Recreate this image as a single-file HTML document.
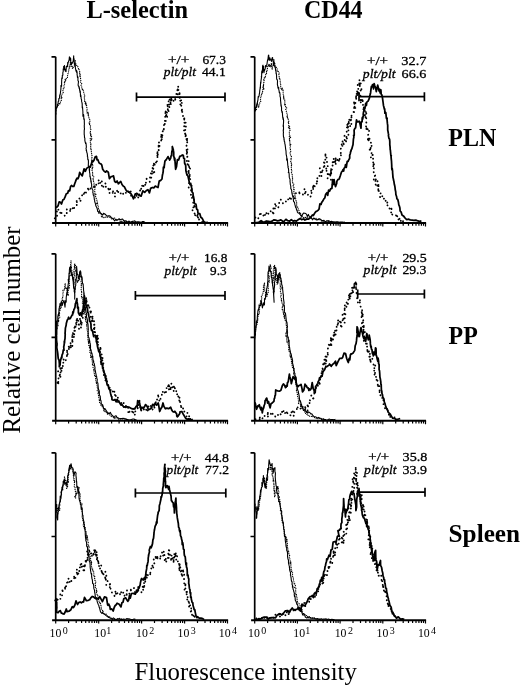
<!DOCTYPE html>
<html><head><meta charset="utf-8"><title>Figure</title>
<style>html,body{margin:0;padding:0;background:#fff}svg{display:block}</style>
</head><body>
<svg width="520" height="686" viewBox="0 0 520 686">
<rect width="520" height="686" fill="#fff"/>
<g font-family="'Liberation Serif', serif" fill="#000">
<path d="M55.7 56.8 V223.0 M51.5 56.8 H55.7 M51.5 139.9 H55.7" stroke="#000" stroke-width="1.7" fill="none"/>
<path d="M52.1 223.0 H228.1" stroke="#000" stroke-width="2" fill="none"/>
<path d="M55.7 223.0 v3.4 M68.6 223.0 v2.8 M76.2 223.0 v2.8 M81.6 223.0 v2.8 M85.7 223.0 v2.8 M89.1 223.0 v2.8 M92.0 223.0 v2.8 M94.5 223.0 v2.8 M96.7 223.0 v2.8 M98.7 223.0 v3.4 M111.6 223.0 v2.8 M119.1 223.0 v2.8 M124.5 223.0 v2.8 M128.7 223.0 v2.8 M132.1 223.0 v2.8 M134.9 223.0 v2.8 M137.4 223.0 v2.8 M139.6 223.0 v2.8 M141.6 223.0 v3.4 M154.5 223.0 v2.8 M162.1 223.0 v2.8 M167.5 223.0 v2.8 M171.6 223.0 v2.8 M175.0 223.0 v2.8 M177.9 223.0 v2.8 M180.4 223.0 v2.8 M182.6 223.0 v2.8 M184.6 223.0 v3.4 M197.5 223.0 v2.8 M205.0 223.0 v2.8 M210.4 223.0 v2.8 M214.6 223.0 v2.8 M218.0 223.0 v2.8 M220.8 223.0 v2.8 M223.3 223.0 v2.8 M225.5 223.0 v2.8 M227.5 223.0 v3.4" stroke="#000" stroke-width="1.2" fill="none"/>
<path d="M254.7 56.8 V223.0 M250.5 56.8 H254.7 M250.5 139.9 H254.7" stroke="#000" stroke-width="1.7" fill="none"/>
<path d="M251.1 223.0 H426.1" stroke="#000" stroke-width="2" fill="none"/>
<path d="M254.7 223.0 v3.4 M267.6 223.0 v2.8 M275.1 223.0 v2.8 M280.4 223.0 v2.8 M284.5 223.0 v2.8 M287.9 223.0 v2.8 M290.8 223.0 v2.8 M293.3 223.0 v2.8 M295.4 223.0 v2.8 M297.4 223.0 v3.4 M310.3 223.0 v2.8 M317.8 223.0 v2.8 M323.1 223.0 v2.8 M327.2 223.0 v2.8 M330.6 223.0 v2.8 M333.5 223.0 v2.8 M336.0 223.0 v2.8 M338.1 223.0 v2.8 M340.1 223.0 v3.4 M353.0 223.0 v2.8 M360.5 223.0 v2.8 M365.8 223.0 v2.8 M369.9 223.0 v2.8 M373.3 223.0 v2.8 M376.2 223.0 v2.8 M378.7 223.0 v2.8 M380.8 223.0 v2.8 M382.8 223.0 v3.4 M395.7 223.0 v2.8 M403.2 223.0 v2.8 M408.5 223.0 v2.8 M412.6 223.0 v2.8 M416.0 223.0 v2.8 M418.9 223.0 v2.8 M421.4 223.0 v2.8 M423.5 223.0 v2.8 M425.5 223.0 v3.4" stroke="#000" stroke-width="1.2" fill="none"/>
<path d="M55.7 253.8 V420.8 M51.5 253.8 H55.7 M51.5 337.3 H55.7" stroke="#000" stroke-width="1.7" fill="none"/>
<path d="M52.1 420.8 H228.1" stroke="#000" stroke-width="2" fill="none"/>
<path d="M55.7 420.8 v3.4 M68.6 420.8 v2.8 M76.2 420.8 v2.8 M81.6 420.8 v2.8 M85.7 420.8 v2.8 M89.1 420.8 v2.8 M92.0 420.8 v2.8 M94.5 420.8 v2.8 M96.7 420.8 v2.8 M98.7 420.8 v3.4 M111.6 420.8 v2.8 M119.1 420.8 v2.8 M124.5 420.8 v2.8 M128.7 420.8 v2.8 M132.1 420.8 v2.8 M134.9 420.8 v2.8 M137.4 420.8 v2.8 M139.6 420.8 v2.8 M141.6 420.8 v3.4 M154.5 420.8 v2.8 M162.1 420.8 v2.8 M167.5 420.8 v2.8 M171.6 420.8 v2.8 M175.0 420.8 v2.8 M177.9 420.8 v2.8 M180.4 420.8 v2.8 M182.6 420.8 v2.8 M184.6 420.8 v3.4 M197.5 420.8 v2.8 M205.0 420.8 v2.8 M210.4 420.8 v2.8 M214.6 420.8 v2.8 M218.0 420.8 v2.8 M220.8 420.8 v2.8 M223.3 420.8 v2.8 M225.5 420.8 v2.8 M227.5 420.8 v3.4" stroke="#000" stroke-width="1.2" fill="none"/>
<path d="M254.7 253.8 V420.8 M250.5 253.8 H254.7 M250.5 337.3 H254.7" stroke="#000" stroke-width="1.7" fill="none"/>
<path d="M251.1 420.8 H426.1" stroke="#000" stroke-width="2" fill="none"/>
<path d="M254.7 420.8 v3.4 M267.6 420.8 v2.8 M275.1 420.8 v2.8 M280.4 420.8 v2.8 M284.5 420.8 v2.8 M287.9 420.8 v2.8 M290.8 420.8 v2.8 M293.3 420.8 v2.8 M295.4 420.8 v2.8 M297.4 420.8 v3.4 M310.3 420.8 v2.8 M317.8 420.8 v2.8 M323.1 420.8 v2.8 M327.2 420.8 v2.8 M330.6 420.8 v2.8 M333.5 420.8 v2.8 M336.0 420.8 v2.8 M338.1 420.8 v2.8 M340.1 420.8 v3.4 M353.0 420.8 v2.8 M360.5 420.8 v2.8 M365.8 420.8 v2.8 M369.9 420.8 v2.8 M373.3 420.8 v2.8 M376.2 420.8 v2.8 M378.7 420.8 v2.8 M380.8 420.8 v2.8 M382.8 420.8 v3.4 M395.7 420.8 v2.8 M403.2 420.8 v2.8 M408.5 420.8 v2.8 M412.6 420.8 v2.8 M416.0 420.8 v2.8 M418.9 420.8 v2.8 M421.4 420.8 v2.8 M423.5 420.8 v2.8 M425.5 420.8 v3.4" stroke="#000" stroke-width="1.2" fill="none"/>
<path d="M55.7 452.8 V620.2 M51.5 452.8 H55.7 M51.5 536.5 H55.7" stroke="#000" stroke-width="1.7" fill="none"/>
<path d="M52.1 620.2 H228.1" stroke="#000" stroke-width="2" fill="none"/>
<path d="M55.7 620.2 v3.4 M68.6 620.2 v2.8 M76.2 620.2 v2.8 M81.6 620.2 v2.8 M85.7 620.2 v2.8 M89.1 620.2 v2.8 M92.0 620.2 v2.8 M94.5 620.2 v2.8 M96.7 620.2 v2.8 M98.7 620.2 v3.4 M111.6 620.2 v2.8 M119.1 620.2 v2.8 M124.5 620.2 v2.8 M128.7 620.2 v2.8 M132.1 620.2 v2.8 M134.9 620.2 v2.8 M137.4 620.2 v2.8 M139.6 620.2 v2.8 M141.6 620.2 v3.4 M154.5 620.2 v2.8 M162.1 620.2 v2.8 M167.5 620.2 v2.8 M171.6 620.2 v2.8 M175.0 620.2 v2.8 M177.9 620.2 v2.8 M180.4 620.2 v2.8 M182.6 620.2 v2.8 M184.6 620.2 v3.4 M197.5 620.2 v2.8 M205.0 620.2 v2.8 M210.4 620.2 v2.8 M214.6 620.2 v2.8 M218.0 620.2 v2.8 M220.8 620.2 v2.8 M223.3 620.2 v2.8 M225.5 620.2 v2.8 M227.5 620.2 v3.4" stroke="#000" stroke-width="1.2" fill="none"/>
<text x="49.5" y="636.6" font-size="11.8">10<tspan dy="-2.7" font-size="10" dx="1.4">0</tspan></text>
<text x="94.3" y="636.6" font-size="11.8">10<tspan dy="-2.7" font-size="10" dx="0.2">1</tspan></text>
<text x="136.0" y="636.6" font-size="11.8">10<tspan dy="-2.7" font-size="10" dx="1.4">2</tspan></text>
<text x="177.5" y="636.6" font-size="11.8">10<tspan dy="-2.7" font-size="10" dx="1.4">3</tspan></text>
<text x="218.8" y="636.6" font-size="11.8">10<tspan dy="-2.7" font-size="10" dx="1.4">4</tspan></text>
<path d="M254.7 452.8 V620.2 M250.5 452.8 H254.7 M250.5 536.5 H254.7" stroke="#000" stroke-width="1.7" fill="none"/>
<path d="M251.1 620.2 H426.1" stroke="#000" stroke-width="2" fill="none"/>
<path d="M254.7 620.2 v3.4 M267.6 620.2 v2.8 M275.1 620.2 v2.8 M280.4 620.2 v2.8 M284.5 620.2 v2.8 M287.9 620.2 v2.8 M290.8 620.2 v2.8 M293.3 620.2 v2.8 M295.4 620.2 v2.8 M297.4 620.2 v3.4 M310.3 620.2 v2.8 M317.8 620.2 v2.8 M323.1 620.2 v2.8 M327.2 620.2 v2.8 M330.6 620.2 v2.8 M333.5 620.2 v2.8 M336.0 620.2 v2.8 M338.1 620.2 v2.8 M340.1 620.2 v3.4 M353.0 620.2 v2.8 M360.5 620.2 v2.8 M365.8 620.2 v2.8 M369.9 620.2 v2.8 M373.3 620.2 v2.8 M376.2 620.2 v2.8 M378.7 620.2 v2.8 M380.8 620.2 v2.8 M382.8 620.2 v3.4 M395.7 620.2 v2.8 M403.2 620.2 v2.8 M408.5 620.2 v2.8 M412.6 620.2 v2.8 M416.0 620.2 v2.8 M418.9 620.2 v2.8 M421.4 620.2 v2.8 M423.5 620.2 v2.8 M425.5 620.2 v3.4" stroke="#000" stroke-width="1.2" fill="none"/>
<text x="248.1" y="636.6" font-size="11.8">10<tspan dy="-2.7" font-size="10" dx="1.4">0</tspan></text>
<text x="293.3" y="636.6" font-size="11.8">10<tspan dy="-2.7" font-size="10" dx="0.2">1</tspan></text>
<text x="334.7" y="636.6" font-size="11.8">10<tspan dy="-2.7" font-size="10" dx="1.4">2</tspan></text>
<text x="376.6" y="636.6" font-size="11.8">10<tspan dy="-2.7" font-size="10" dx="1.4">3</tspan></text>
<text x="417.9" y="636.6" font-size="11.8">10<tspan dy="-2.7" font-size="10" dx="1.4">4</tspan></text>
</g>
<path d="M55.5 114.7 L55.8 110.2 L56.1 107.8 L56.2 108.7 L56.4 107.5 L57.3 107.2 L57.4 105.5 L57.5 105.2 L57.9 104.5 L58.2 101.8 L58.4 101.3 L58.7 100.9 L58.9 98.4 L59.2 98.3 L59.5 98.2 L59.7 95.4 L60.0 94.5 L60.1 95.2 L60.6 91.3 L60.5 91.4 L60.7 91.3 L61.0 87.1 L60.9 85.6 L61.2 85.6 L61.6 86.3 L61.6 83.2 L61.7 79.7 L61.7 80.4 L61.8 77.9 L62.3 78.3 L62.3 77.7 L62.3 75.9 L62.4 75.2 L62.9 75.1 L62.8 72.8 L63.2 71.3 L63.2 68.8 L63.5 68.9 L63.8 69.6 L63.6 66.6 L64.0 67.7 L64.2 66.4 L64.5 65.5 L64.6 67.2 L64.8 69.1 L64.8 69.9 L65.3 71.1 L65.7 69.4 L66.0 71.6 L66.4 66.3 L67.2 66.0 L67.5 66.7 L67.7 62.6 L67.7 64.8 L68.1 62.7 L68.7 61.0 L69.1 60.0 L69.4 56.8 L69.4 58.4 L69.6 57.6 L70.0 59.3 L70.1 57.6 L70.3 60.8 L70.7 58.5 L70.8 64.8 L71.5 64.3 L71.8 62.6 L72.4 63.1 L73.2 61.0 L73.5 58.1 L73.7 55.9 L73.7 59.7 L74.1 58.7 L74.3 64.1 L74.5 63.7 L74.6 63.5 L75.3 65.9 L75.4 68.0 L75.9 70.7 L76.4 71.7 L76.6 70.3 L76.7 72.4 L77.1 71.7 L77.1 74.7 L77.3 75.7 L77.5 77.7 L78.0 76.9 L77.9 80.2 L78.1 80.9 L78.5 81.5 L78.1 85.0 L78.5 86.3 L79.0 86.3 L79.0 87.5 L79.0 88.1 L79.4 87.7 L79.6 90.1 L79.9 90.0 L79.9 92.3 L80.3 91.3 L80.4 94.1 L80.5 96.5 L80.8 95.1 L81.0 96.5 L81.2 99.0 L81.4 99.3 L81.5 99.3 L81.7 101.9 L82.0 102.6 L82.2 104.4 L82.2 103.5 L82.2 107.5 L82.5 108.2 L82.5 106.7 L82.9 111.8 L82.9 111.8 L82.9 113.0 L82.9 116.2 L83.4 114.9 L83.6 114.7 L83.7 115.3 L83.8 119.3 L84.1 118.5 L84.3 119.4 L84.3 121.8 L84.3 122.1 L84.4 124.2 L84.2 126.4 L84.4 126.6 L84.3 127.5 L84.3 127.6 L84.5 128.6 L84.2 130.7 L84.2 134.6 L84.4 135.5 L84.3 134.5 L84.6 137.8 L84.4 136.8 L84.9 138.6 L84.8 140.2 L85.3 142.6 L85.6 143.2 L85.5 143.5 L86.0 143.0 L86.4 147.2 L86.0 148.4 L86.4 150.1 L86.2 150.7 L86.4 149.8 L86.9 153.0 L87.1 152.9 L87.5 155.7 L87.3 156.2 L87.7 156.8 L87.8 159.4 L87.9 159.8 L88.1 159.2 L88.4 160.7 L88.4 163.2 L88.3 165.6 L88.4 166.2 L88.7 166.6 L89.2 167.5 L89.3 170.5 L89.4 168.3 L89.6 169.8 L89.5 171.8 L89.8 173.5 L89.9 174.2 L89.9 176.8 L90.2 176.3 L90.5 179.2 L90.7 178.0 L90.8 180.5 L90.9 181.9 L91.2 180.9 L91.3 183.1 L91.7 184.7 L91.6 185.9 L91.9 188.3 L92.2 188.6 L92.4 189.5 L93.0 190.3 L92.8 192.5 L93.2 193.6 L93.2 194.8 L93.8 195.6 L94.0 196.6 L94.1 197.5 L94.4 199.9 L94.6 199.6 L94.7 201.5 L95.4 203.7 L95.8 205.3 L95.8 205.7 L96.7 207.5 L96.8 207.3 L97.4 209.7 L97.7 211.5 L98.4 211.8 L98.7 211.6 L98.7 213.2 L100.0 212.8 L101.1 213.4 L102.6 215.2 L103.5 213.3 L104.9 214.0 L106.1 215.1 L107.0 216.2 L108.3 215.9 L109.4 215.9 L110.1 216.0 L111.2 217.4 L112.2 218.2 L113.6 219.5 L114.7 220.8 L115.8 219.4 L116.8 220.4 L118.1 219.6 L119.1 218.7 L120.6 219.9 L121.8 219.1 L122.6 219.1 L123.9 220.9 L125.4 220.8 L126.5 221.7 L127.8 221.9 L128.8 221.1 L130.0 221.7 L131.3 222.0 L132.3 221.4 L133.5 221.2 L134.8 220.9 L136.2 222.1 L137.2 221.8 L138.5 221.8 L139.9 222.1 L141.1 222.4 L142.2 221.6 L143.9 221.6 L144.9 222.2 L146.0 222.6" stroke="#000" stroke-width="1.1" fill="none" stroke-linejoin="round"/>
<path d="M56.0 113.8 L55.7 111.7 L56.2 109.3 L56.8 107.5 L57.0 107.0 L57.4 104.5 L57.9 105.8 L58.7 104.5 L58.9 103.6 L60.2 104.1 L59.6 103.4 L60.9 101.4 L61.3 100.6 L61.0 96.8 L62.1 98.0 L61.6 97.4 L61.6 95.1 L62.6 93.1 L63.2 92.5 L62.8 89.8 L63.4 88.6 L63.4 88.9 L64.1 87.7 L63.9 87.3 L64.0 85.1 L64.7 83.7 L64.6 81.3 L64.4 82.6 L65.1 81.6 L65.1 79.3 L65.8 80.6 L65.5 79.6 L65.6 79.5 L66.5 78.5 L67.6 77.6 L67.3 77.3 L67.7 74.5 L68.5 71.9 L68.6 70.7 L68.8 70.1 L69.3 66.2 L69.5 68.0 L70.3 64.6 L69.7 63.6 L70.4 62.6 L71.3 64.9 L71.4 66.3 L72.2 65.6 L72.5 68.7 L73.3 67.4 L73.8 66.8 L74.3 66.3 L75.4 60.6 L75.1 60.9 L74.9 65.7 L75.6 63.5 L76.6 65.0 L77.1 66.3 L77.8 66.5 L78.5 68.7 L78.6 68.3 L80.1 72.6 L79.2 73.3 L79.7 73.3 L80.0 73.8 L79.8 76.3 L80.1 74.7 L80.5 78.1 L80.9 80.8 L80.5 81.5 L80.8 82.8 L81.7 83.5 L80.9 84.8 L82.0 87.8 L81.8 88.2 L82.0 88.8 L83.2 89.5 L82.2 89.4 L82.9 90.0 L83.1 90.1 L83.9 92.9 L83.9 92.9 L84.8 96.1 L84.7 95.3 L84.2 96.8 L84.7 100.4 L84.4 100.4 L85.6 104.4 L86.4 103.4 L85.6 102.1 L85.8 105.3 L86.4 104.3 L87.0 108.4 L86.9 109.0 L87.2 109.5 L86.8 110.0 L87.2 113.5 L87.7 112.8 L88.1 111.9 L88.2 115.3 L88.3 113.8 L88.6 116.6 L88.9 117.8 L89.6 118.3 L89.9 121.2 L89.5 124.0 L89.2 122.8 L89.8 125.5 L90.5 126.0 L90.4 127.7 L90.1 128.9 L90.8 129.4 L90.1 133.0 L90.4 132.4 L90.7 135.9 L90.8 134.2 L90.4 133.7 L91.3 136.0 L91.7 137.3 L91.8 140.1 L90.2 138.4 L90.4 138.7 L90.4 142.2 L90.8 143.8 L90.5 144.9 L91.1 143.5 L90.5 145.9 L91.0 147.7 L90.7 148.3 L90.9 147.8 L91.0 150.3 L91.2 149.6 L91.3 151.4 L91.5 153.2 L92.1 156.0 L91.9 157.5 L91.5 158.0 L91.9 158.8 L91.4 160.3 L91.8 161.7 L92.3 163.3 L92.4 164.5 L92.4 164.5 L92.7 163.9 L92.8 167.1 L91.7 167.9 L93.1 168.5 L91.7 169.2 L92.6 172.5 L93.0 172.9 L92.2 175.1 L93.9 176.6 L93.1 177.6 L93.0 180.1 L93.3 179.6 L93.4 180.9 L94.0 182.7 L93.9 184.3 L94.1 185.3 L94.6 186.5 L94.2 187.4 L95.0 187.2 L94.9 189.3 L94.7 189.8 L94.7 190.2 L94.9 193.0 L94.9 194.2 L96.3 194.6 L94.9 194.9 L96.1 197.7 L96.3 198.7 L97.4 201.5 L96.6 203.7 L97.3 202.6 L97.7 204.2 L97.9 205.5 L98.4 205.9 L98.4 208.1 L98.5 209.5 L99.2 209.7 L99.9 212.3 L99.5 211.1 L100.8 213.6 L101.3 214.4 L101.3 215.4 L101.6 217.5 L102.8 216.5 L104.2 217.8 L104.8 217.1 L106.3 217.4 L107.5 217.2 L108.6 217.0 L109.8 216.6 L110.4 218.3 L112.1 219.1 L113.0 218.6 L114.3 217.7 L115.8 219.4 L116.7 219.7 L118.2 219.8 L119.6 219.6 L120.3 222.1 L121.8 221.0 L122.6 221.9 L123.7 221.4 L124.8 221.4 L126.3 221.2 L127.5 221.5 L128.5 221.9 L129.9 222.4 L131.3 221.8 L132.5 221.5" stroke="#000" stroke-width="1.3" fill="none" stroke-dasharray="0.01 1.9" stroke-linecap="round" stroke-linejoin="round"/>
<path d="M54.8 218.3 L55.8 218.0 L56.5 218.2 L57.0 216.3 L57.2 214.5 L56.8 211.6 L58.4 208.6 L58.3 211.8 L60.9 213.1 L59.6 212.5 L61.0 212.5 L63.7 214.7 L64.4 214.9 L64.7 215.7 L65.0 213.2 L67.5 213.0 L66.8 209.4 L66.5 209.8 L70.7 211.1 L69.7 208.6 L71.6 209.9 L72.3 207.7 L74.1 210.0 L74.0 208.3 L74.6 206.8 L74.9 206.0 L77.4 204.6 L76.3 199.5 L76.9 202.3 L78.5 202.0 L79.9 200.7 L80.8 200.8 L78.7 200.3 L79.4 198.6 L81.8 195.4 L82.1 195.3 L83.2 196.3 L82.8 195.0 L84.6 193.0 L84.2 194.3 L84.9 191.4 L84.8 190.6 L86.0 192.5 L88.7 187.1 L88.2 189.2 L90.3 190.7 L90.4 189.4 L90.7 187.7 L92.3 188.0 L93.8 187.0 L93.4 186.8 L93.8 188.2 L94.7 186.2 L95.4 187.6 L96.3 184.9 L96.1 183.9 L98.7 184.2 L98.4 179.8 L100.0 183.6 L101.3 180.1 L101.8 181.1 L102.2 184.7 L101.2 187.5 L103.5 186.7 L104.0 184.0 L106.0 183.3 L105.6 186.7 L106.7 186.7 L109.2 189.9 L107.9 187.7 L109.6 193.0 L109.2 191.6 L110.3 188.6 L113.2 191.5 L112.1 190.4 L112.9 193.7 L115.3 196.9 L115.0 192.8 L116.8 190.1 L118.2 193.4 L118.3 191.2 L119.5 193.2 L122.0 193.5 L122.0 192.6 L121.9 192.4 L123.3 193.9 L125.5 192.6 L125.0 193.1 L126.0 192.8 L127.0 194.0 L128.0 192.3 L129.7 191.8 L130.0 190.2 L131.3 192.7 L131.0 195.6 L133.2 196.8 L134.4 197.2 L136.4 198.4 L136.7 192.6 L136.3 193.0 L138.3 197.6 L138.1 194.8 L139.3 194.5 L139.7 193.3 L139.3 195.6 L140.2 189.7 L141.2 190.8 L141.2 187.3 L142.8 186.6 L142.1 185.7 L143.4 185.5 L143.3 187.2 L144.3 183.4 L146.0 185.7 L146.2 184.6 L145.6 180.3 L146.5 178.8 L148.0 179.8 L149.8 181.8 L150.1 176.1 L150.7 177.7 L151.3 178.1 L150.8 171.5 L152.4 174.5 L152.0 170.1 L152.5 170.7 L152.2 171.4 L155.1 174.0 L152.1 167.0 L153.1 169.3 L154.8 164.2 L152.5 164.2 L154.9 163.3 L153.2 165.8 L155.5 162.4 L156.7 162.7 L155.7 161.6 L156.8 162.2 L157.5 157.1 L157.2 158.5 L157.5 152.4 L157.4 153.7 L158.0 154.9 L157.4 152.0 L159.0 152.4 L157.8 154.5 L158.4 151.8 L159.7 144.9 L158.6 144.0 L158.7 150.5 L158.6 144.6 L158.4 144.3 L159.2 141.8 L161.8 140.4 L161.0 140.5 L162.0 138.9 L160.7 135.8 L162.0 135.3 L161.8 140.3 L161.2 133.2 L162.4 135.5 L162.5 133.2 L162.3 132.1 L162.6 131.7 L163.7 128.3 L163.7 131.3 L163.9 128.1 L164.6 127.0 L163.8 125.6 L164.8 122.9 L164.9 120.2 L164.8 124.4 L166.0 121.7 L165.1 118.2 L165.4 112.7 L165.2 116.2 L167.6 113.6 L165.7 115.7 L167.0 112.5 L167.2 118.2 L165.3 111.8 L167.2 110.5 L168.4 111.4 L168.2 110.8 L167.4 103.4 L168.0 112.2 L169.8 108.2 L168.2 104.0 L169.7 104.8 L168.5 101.0 L170.1 103.2 L170.7 103.2 L169.1 99.2 L171.2 100.8 L171.3 97.3 L170.8 104.4 L172.0 98.4 L173.5 100.8 L173.9 102.0 L175.1 101.1 L175.3 98.7 L176.0 99.4 L174.7 98.4 L175.5 97.3 L178.1 93.9 L176.7 95.6 L176.1 92.0 L177.1 90.9 L177.4 90.2 L177.1 87.7 L178.1 90.2 L178.2 87.1 L178.2 86.2 L178.5 91.1 L179.8 93.2 L178.7 95.7 L179.8 98.0 L179.4 91.5 L180.1 97.6 L181.5 98.3 L179.6 102.0 L180.3 104.6 L181.3 100.4 L180.6 100.3 L181.4 102.8 L181.9 102.4 L181.4 104.2 L181.9 103.6 L180.8 107.2 L182.0 109.4 L181.5 112.2 L182.1 109.1 L182.5 115.5 L183.5 116.4 L183.0 116.1 L184.1 116.7 L184.4 118.0 L183.9 121.2 L184.3 122.5 L184.9 123.2 L183.8 117.1 L184.7 121.7 L186.5 123.5 L186.2 125.8 L184.9 128.7 L184.0 130.5 L184.2 126.2 L185.1 130.1 L185.3 129.9 L184.9 127.9 L184.7 130.9 L185.8 135.9 L184.8 133.7 L186.2 133.1 L185.3 138.7 L186.2 138.4 L187.5 141.7 L184.7 133.9 L187.7 137.9 L185.9 141.2 L188.1 143.1 L188.2 143.6 L186.4 145.9 L186.5 143.8 L186.6 150.9 L187.9 150.2 L187.5 148.9 L187.3 151.3 L186.5 154.9 L187.1 150.0 L187.1 155.1 L187.4 157.5 L187.5 155.3 L186.8 161.7 L187.9 160.0 L188.7 161.2 L188.6 160.7 L187.3 163.1 L188.5 166.8 L188.6 164.5 L189.5 164.3 L189.0 168.2 L188.2 169.6 L189.1 171.4 L190.2 168.2 L189.5 169.5 L187.7 171.2 L189.1 172.0 L188.3 174.1 L189.0 172.9 L190.0 173.4 L190.2 174.2 L188.8 179.1 L189.7 174.2 L190.3 180.2 L190.0 181.0 L188.9 183.6 L188.7 187.6 L189.6 185.9 L190.6 185.6 L191.6 185.4 L191.5 189.1 L190.7 191.6 L190.9 189.8 L191.1 190.5 L190.9 196.2 L191.6 195.3 L194.1 197.2 L192.2 198.3 L192.0 197.7 L192.5 198.9 L194.6 198.9 L192.2 201.8 L192.9 201.9 L194.2 204.8 L195.6 208.2 L193.7 204.6 L193.2 206.9 L194.1 209.5 L193.8 209.6 L192.4 210.1 L194.8 213.7 L193.5 212.8 L195.5 215.6 L196.5 217.4 L198.1 213.9 L197.1 213.6 L198.9 216.4 L197.5 217.2 L199.5 218.2 L198.2 219.4 L200.0 219.7 L201.6 221.9 L202.5 221.8 L203.4 222.4 L204.1 222.6" stroke="#000" stroke-width="1.9" fill="none" stroke-dasharray="0.01 4.3" stroke-linecap="round" stroke-linejoin="round"/>
<path d="M55.4 207.5 L56.8 207.2 L58.0 205.9 L59.2 201.8 L60.5 202.3 L61.5 204.0 L62.9 199.8 L63.9 199.5 L65.1 196.9 L66.3 193.8 L67.7 193.2 L68.4 190.7 L69.7 190.9 L70.6 186.4 L71.7 185.5 L72.7 186.5 L73.8 186.4 L74.7 183.7 L75.4 181.9 L76.2 179.6 L77.0 178.2 L77.9 178.8 L78.8 176.7 L79.7 172.4 L81.3 174.8 L82.3 175.8 L84.1 168.8 L85.3 171.3 L86.6 168.4 L88.4 167.1 L89.0 166.4 L90.2 167.2 L91.2 164.4 L92.2 160.8 L93.1 161.6 L94.1 160.0 L95.2 156.8 L96.5 156.4 L97.0 159.9 L97.9 159.7 L99.0 162.8 L100.1 163.6 L100.9 163.8 L101.8 165.1 L102.7 169.3 L104.0 171.1 L105.6 172.2 L106.6 170.9 L108.3 172.2 L109.4 178.6 L111.0 176.7 L112.1 176.5 L113.5 175.9 L114.7 181.5 L115.9 182.4 L117.1 181.0 L118.4 183.8 L119.4 182.7 L120.8 181.5 L122.0 184.5 L123.4 186.3 L124.4 186.8 L125.8 189.7 L126.9 191.1 L128.4 191.4 L129.6 192.5 L131.0 193.8 L132.0 195.5 L133.5 198.8 L135.3 193.9 L137.3 193.6 L139.1 195.5 L141.1 196.1 L142.9 190.8 L144.7 192.3 L146.4 190.5 L147.9 189.7 L149.4 192.9 L150.6 188.4 L152.4 187.5 L153.8 187.8 L155.3 186.1 L156.5 186.8 L158.0 187.5 L159.2 181.1 L160.7 180.4 L162.0 179.0 L162.3 176.0 L162.5 174.8 L162.9 173.2 L163.2 171.5 L163.3 168.7 L163.4 167.2 L164.2 167.6 L164.3 164.9 L164.4 165.3 L164.9 161.2 L166.3 159.6 L168.0 156.6 L169.7 160.0 L169.7 159.8 L170.6 158.2 L170.8 157.7 L171.0 156.0 L171.6 155.6 L171.7 153.3 L171.9 151.3 L172.4 150.1 L172.3 146.5 L172.8 148.0 L173.5 151.0 L173.3 149.5 L173.7 152.5 L173.7 156.6 L174.0 156.8 L174.6 160.3 L174.8 158.1 L174.9 159.8 L175.1 162.2 L175.6 169.3 L176.5 166.7 L177.4 159.7 L178.6 160.0 L179.8 156.4 L181.3 155.7 L182.4 155.0 L183.3 155.3 L183.7 158.3 L184.5 158.8 L184.6 163.2 L185.1 164.3 L185.4 164.1 L185.7 165.6 L185.9 170.9 L186.1 171.4 L186.5 173.2 L187.1 175.2 L187.3 174.3 L188.0 176.2 L188.5 178.5 L189.1 181.3 L189.4 183.0 L190.1 184.6 L190.7 183.4 L191.4 186.9 L191.6 187.9 L192.0 188.8 L192.0 191.9 L193.0 193.0 L193.1 194.8 L193.4 196.6 L193.8 198.0 L194.0 199.7 L194.3 202.9 L195.1 204.0 L195.9 204.2 L196.2 205.4 L196.6 209.0 L197.7 210.0 L197.9 212.7 L198.3 213.5 L199.8 213.7 L200.8 217.2 L202.1 218.2 L203.3 220.7 L204.1 221.8 L205.8 222.7 L208.0 222.3" stroke="#000" stroke-width="1.75" fill="none" stroke-linejoin="round"/>
<path d="M254.7 110.3 L254.6 108.5 L255.4 110.8 L255.4 108.6 L255.6 107.3 L256.1 107.0 L256.4 107.3 L256.6 105.1 L257.2 103.2 L257.3 102.3 L257.4 102.6 L257.7 100.6 L257.9 100.4 L258.2 96.6 L258.6 97.1 L259.1 95.8 L259.1 95.6 L259.3 94.2 L259.6 92.6 L259.7 91.2 L260.1 88.3 L260.2 87.1 L260.3 86.7 L260.5 88.0 L260.4 85.9 L260.6 82.4 L260.8 83.4 L261.0 81.5 L260.8 82.2 L261.5 77.4 L261.3 76.6 L261.6 77.2 L261.7 71.6 L261.9 73.9 L261.8 72.4 L262.3 69.9 L262.6 72.4 L262.5 69.7 L262.6 65.8 L263.0 65.2 L263.0 67.7 L263.3 70.9 L263.2 67.7 L263.7 66.6 L263.5 67.5 L264.0 72.7 L264.3 69.8 L264.4 70.8 L265.2 68.8 L265.5 65.6 L266.1 66.3 L266.2 66.8 L266.6 65.5 L267.0 64.0 L267.0 63.9 L267.4 61.0 L267.9 59.5 L268.4 55.3 L268.8 56.2 L268.7 55.1 L269.1 60.1 L269.0 59.3 L269.5 60.3 L269.6 59.4 L269.8 57.7 L270.5 60.0 L271.0 59.8 L271.5 61.4 L272.1 57.9 L272.6 57.5 L272.6 58.9 L272.8 59.1 L273.3 62.4 L273.5 62.6 L273.6 65.7 L273.8 64.9 L273.9 64.6 L274.5 65.8 L274.9 67.2 L275.3 67.8 L275.7 70.9 L275.9 70.0 L276.1 73.6 L276.1 72.3 L276.5 74.3 L276.6 77.7 L276.7 79.2 L277.0 79.2 L277.3 80.0 L277.5 81.2 L277.4 84.1 L277.4 84.6 L277.8 86.2 L278.0 88.2 L278.4 87.6 L278.4 87.7 L278.7 87.4 L278.7 89.4 L279.0 90.3 L279.3 92.7 L279.5 92.1 L279.7 92.4 L280.1 94.8 L280.1 95.2 L279.9 95.8 L280.5 97.9 L280.5 99.6 L280.9 104.2 L280.8 102.3 L281.0 105.9 L281.1 104.6 L281.5 107.4 L281.6 108.1 L281.5 111.0 L282.4 112.0 L282.0 111.1 L282.0 112.4 L282.3 111.7 L282.6 116.0 L282.7 117.5 L282.9 117.1 L283.0 119.2 L283.2 117.9 L283.4 119.5 L283.6 120.1 L283.5 123.4 L283.1 126.3 L283.4 125.1 L283.5 127.4 L283.5 129.3 L283.5 129.9 L283.2 129.9 L283.5 133.2 L283.4 132.7 L283.3 133.8 L283.5 137.2 L283.9 137.3 L283.9 137.4 L284.0 139.8 L284.1 138.9 L284.3 141.5 L284.6 141.6 L284.8 143.0 L284.8 143.8 L285.1 144.4 L285.3 146.1 L285.6 148.4 L285.6 148.9 L285.7 149.4 L286.0 151.1 L286.1 153.6 L286.3 155.2 L286.6 156.2 L286.8 157.7 L286.6 160.1 L286.8 160.2 L287.3 158.8 L287.5 162.0 L287.5 162.1 L287.7 163.8 L287.7 164.4 L288.0 166.7 L288.2 166.2 L288.0 167.8 L288.4 168.1 L288.7 171.4 L288.3 172.4 L288.9 172.4 L289.2 174.8 L289.2 175.5 L289.3 177.4 L289.7 178.5 L290.1 179.7 L290.0 181.5 L290.1 181.9 L290.3 184.3 L290.5 185.2 L290.7 186.0 L290.8 186.4 L290.8 188.6 L291.4 189.5 L291.7 190.6 L291.9 193.3 L292.2 192.9 L292.2 194.5 L292.6 195.7 L292.9 196.3 L293.1 197.8 L293.3 198.4 L293.4 199.9 L293.5 200.8 L293.7 201.8 L294.4 202.0 L294.9 204.7 L295.2 205.7 L295.6 207.5 L296.0 207.3 L296.4 209.2 L296.6 210.2 L297.2 210.3 L297.3 212.0 L297.8 212.7 L299.0 213.2 L300.2 214.6 L301.6 216.3 L302.8 214.1 L303.5 213.1 L305.0 213.2 L306.5 214.1 L307.3 216.5 L308.4 214.4 L309.5 217.1 L310.4 216.9 L311.4 217.9 L312.6 219.7 L313.7 218.0 L315.0 218.8 L316.2 219.8 L317.3 219.9 L318.1 219.1 L319.6 218.8 L320.7 219.4 L321.9 220.6 L323.3 220.6 L324.0 220.3 L325.2 222.0 L326.5 220.8 L328.1 220.9 L329.1 220.9 L330.4 221.8 L331.5 221.3 L332.7 221.8 L334.0 221.9 L335.1 222.1 L336.4 221.7 L337.8 221.7 L339.1 222.2 L340.1 222.0 L341.1 222.1 L342.4 222.1 L343.7 222.4 L344.9 222.1" stroke="#000" stroke-width="1.1" fill="none" stroke-linejoin="round"/>
<path d="M254.7 111.2 L255.3 111.7 L255.2 109.1 L256.6 110.1 L255.8 106.8 L257.0 106.2 L257.1 105.0 L257.4 103.0 L258.6 107.8 L259.4 103.5 L260.4 102.0 L260.7 101.5 L260.8 100.7 L260.3 98.6 L261.3 96.5 L261.0 95.0 L261.8 93.9 L262.1 93.7 L261.8 93.4 L262.9 92.5 L262.5 90.7 L263.4 88.3 L262.7 86.6 L264.2 89.5 L263.3 88.0 L263.5 85.1 L263.4 85.8 L264.2 79.5 L263.6 79.8 L264.5 79.0 L264.0 77.5 L264.9 77.2 L265.0 77.9 L265.8 74.2 L266.3 74.3 L266.7 72.1 L266.5 71.5 L266.8 71.8 L267.8 66.5 L267.6 66.6 L268.4 66.5 L268.6 64.2 L269.5 65.1 L269.6 66.4 L269.7 64.9 L271.0 67.0 L270.9 65.4 L271.4 63.2 L272.2 69.7 L272.2 67.9 L273.1 65.0 L273.3 63.2 L273.9 59.0 L274.1 64.5 L274.7 64.3 L274.4 61.8 L275.9 68.4 L275.8 66.4 L277.3 69.3 L277.3 71.5 L278.1 71.1 L278.4 71.8 L279.2 72.9 L278.5 73.7 L279.0 74.8 L279.2 77.1 L279.3 78.3 L279.4 78.2 L279.7 77.8 L280.2 80.9 L280.4 82.9 L280.8 83.9 L280.7 83.9 L280.7 87.0 L281.2 87.6 L281.0 89.2 L281.5 89.8 L282.7 88.4 L282.2 88.1 L282.3 90.2 L283.1 89.7 L283.2 93.9 L283.7 96.4 L283.7 98.0 L283.8 99.3 L283.7 96.9 L284.1 100.0 L284.9 100.3 L284.8 103.5 L284.6 105.3 L284.9 103.9 L285.4 104.8 L285.6 106.7 L285.6 106.5 L286.6 107.9 L285.7 109.1 L286.8 112.8 L287.3 114.9 L287.3 117.6 L287.1 116.2 L287.5 117.6 L287.6 118.7 L288.2 118.8 L289.1 122.2 L288.0 122.3 L288.6 122.6 L288.9 126.7 L288.4 127.3 L288.8 128.1 L288.9 127.0 L289.0 128.4 L289.5 126.5 L290.1 130.1 L289.4 131.2 L289.3 133.7 L289.9 135.8 L289.6 136.0 L290.1 136.5 L290.8 138.3 L290.3 136.8 L289.3 136.4 L289.7 141.0 L289.4 139.5 L289.9 141.4 L289.9 145.2 L290.0 144.4 L290.9 144.3 L290.0 147.4 L290.1 147.9 L290.5 148.0 L290.3 148.7 L290.7 151.3 L290.0 152.2 L290.5 155.0 L291.4 156.3 L291.0 159.1 L290.7 159.0 L291.2 160.2 L290.5 162.2 L291.5 163.5 L291.6 162.6 L291.1 164.5 L292.3 165.3 L291.1 166.0 L291.3 167.8 L291.5 168.8 L291.4 170.3 L291.6 170.1 L291.8 170.5 L291.4 173.3 L292.4 174.6 L292.2 174.9 L292.4 177.0 L292.6 178.8 L292.8 178.4 L292.3 179.7 L292.8 183.3 L293.8 184.1 L292.9 185.4 L293.2 185.7 L293.2 186.5 L294.1 187.5 L293.4 189.8 L294.2 189.4 L293.8 191.9 L294.2 193.6 L294.4 194.3 L295.2 195.7 L295.3 195.9 L295.2 197.5 L295.5 198.5 L296.1 199.7 L296.0 200.6 L296.3 200.5 L296.7 202.8 L296.7 203.2 L296.6 206.3 L297.2 206.4 L298.1 208.1 L298.3 209.3 L298.9 210.4 L299.3 212.1 L299.6 213.0 L300.3 212.7 L300.8 214.1 L301.1 215.6 L301.3 217.3 L302.6 216.0 L304.1 219.2 L305.5 216.7 L306.7 219.2 L307.6 217.6 L308.4 218.5 L310.5 218.3 L311.0 218.1 L312.3 219.6 L313.0 219.3 L314.8 218.7 L316.6 218.3 L316.9 220.0 L318.8 219.4 L319.5 219.1 L320.6 220.6 L321.8 221.2 L322.8 221.4 L323.9 221.5 L325.5 222.2 L327.4 221.8 L328.2 221.1 L329.2 222.1 L330.4 221.9 L331.2 221.9" stroke="#000" stroke-width="1.3" fill="none" stroke-dasharray="0.01 1.9" stroke-linecap="round" stroke-linejoin="round"/>
<path d="M255.4 217.6 L256.4 216.5 L258.3 218.4 L258.6 217.0 L259.8 214.2 L259.0 215.7 L261.6 213.2 L261.8 214.6 L262.7 214.9 L265.2 216.9 L264.9 212.4 L266.4 213.3 L266.7 211.7 L268.3 213.8 L269.1 211.5 L269.7 212.0 L271.4 210.8 L272.6 211.3 L274.0 214.5 L272.2 213.1 L273.2 212.1 L273.4 208.3 L273.0 209.8 L274.9 208.8 L275.1 203.5 L275.9 204.0 L275.6 206.2 L276.3 205.5 L275.6 205.6 L278.4 207.2 L279.7 199.9 L281.0 199.7 L281.7 201.6 L282.9 203.2 L282.9 203.8 L284.4 202.4 L286.6 201.0 L286.2 199.6 L288.4 199.4 L287.3 198.3 L290.1 198.3 L290.3 200.5 L291.0 198.8 L292.1 198.4 L294.7 198.7 L293.5 196.5 L294.3 195.7 L293.3 196.5 L296.5 192.5 L297.4 193.5 L299.9 193.2 L299.0 193.1 L297.9 192.1 L300.3 192.7 L302.9 194.3 L303.1 195.8 L305.3 192.8 L304.3 188.6 L306.7 194.4 L307.7 195.1 L308.4 194.1 L309.2 196.0 L311.1 196.7 L311.9 190.6 L311.1 191.5 L312.0 187.8 L314.2 186.3 L312.9 189.5 L314.7 186.2 L315.7 187.4 L313.4 185.6 L314.9 185.5 L317.0 183.1 L317.4 180.4 L316.1 183.2 L317.2 181.3 L315.9 180.8 L319.0 175.3 L318.9 175.7 L320.6 176.3 L321.3 174.7 L321.4 176.2 L319.8 168.1 L321.9 172.1 L321.8 169.3 L322.7 170.8 L322.8 170.6 L324.2 165.2 L324.5 162.8 L324.7 166.6 L323.1 163.5 L324.3 162.1 L323.8 159.8 L325.7 159.6 L325.3 152.9 L325.8 157.6 L326.5 157.3 L327.1 162.7 L327.8 166.1 L325.3 167.3 L327.0 169.5 L326.0 168.9 L327.0 172.6 L327.8 174.1 L327.4 174.2 L329.1 173.2 L327.8 173.6 L329.0 174.4 L331.3 173.5 L327.3 178.7 L331.0 179.7 L330.3 177.3 L330.4 172.5 L331.8 174.2 L330.8 170.7 L330.0 172.1 L330.1 175.5 L332.1 168.9 L330.8 173.6 L331.2 167.3 L331.4 166.3 L332.6 165.5 L332.2 165.9 L332.1 165.0 L332.9 161.1 L333.4 161.5 L333.8 158.3 L334.0 163.1 L333.4 162.0 L336.2 161.7 L335.5 157.1 L335.6 164.1 L337.4 159.7 L337.9 162.0 L339.0 160.6 L337.1 162.0 L338.0 158.7 L339.3 160.0 L339.9 157.9 L341.3 155.7 L340.3 154.5 L340.0 152.5 L340.8 153.2 L340.9 151.8 L340.6 150.6 L340.7 149.4 L341.3 146.0 L342.6 140.9 L342.4 146.0 L343.5 142.7 L343.4 145.9 L344.8 139.4 L345.2 137.9 L344.4 135.5 L345.9 136.5 L347.1 138.8 L346.0 141.9 L346.6 135.3 L348.4 135.5 L348.4 130.2 L347.4 132.8 L346.8 131.9 L346.7 131.6 L347.1 124.0 L347.5 126.3 L347.4 125.5 L347.9 129.3 L348.1 124.9 L347.9 127.7 L348.1 121.4 L348.6 120.8 L349.0 123.1 L350.4 126.7 L347.9 121.5 L350.6 118.2 L351.4 124.3 L351.1 120.1 L350.2 116.8 L351.6 117.4 L351.8 118.6 L351.5 115.4 L353.1 112.9 L354.2 110.8 L352.8 111.0 L354.1 112.1 L354.5 105.8 L353.7 109.4 L354.7 107.2 L354.3 109.0 L355.6 109.4 L353.9 101.0 L354.6 107.0 L356.7 95.9 L355.8 97.6 L356.3 96.6 L356.8 92.9 L356.1 96.5 L358.4 94.6 L356.9 95.2 L357.2 89.9 L358.1 92.2 L357.8 94.9 L357.5 94.0 L358.4 87.8 L358.3 86.5 L357.7 86.1 L357.8 83.1 L359.3 83.8 L359.3 84.0 L359.1 79.9 L359.2 80.4 L359.9 79.9 L359.6 83.8 L359.8 82.2 L359.6 84.9 L360.8 82.2 L360.3 84.7 L360.0 85.0 L361.0 83.1 L358.7 85.8 L361.2 86.3 L361.7 91.8 L360.4 90.1 L359.1 93.1 L359.2 94.4 L360.8 93.9 L360.4 95.5 L360.6 100.9 L361.1 100.3 L361.0 102.6 L360.3 101.3 L362.0 101.5 L362.0 98.0 L362.9 102.8 L362.9 102.8 L362.7 100.8 L363.3 108.2 L364.6 106.4 L363.1 109.8 L364.7 111.8 L364.6 107.2 L366.5 114.3 L365.4 114.2 L363.9 117.1 L365.8 112.4 L367.1 115.4 L365.3 117.3 L366.5 116.0 L366.1 119.5 L366.4 123.2 L365.8 123.5 L366.1 126.8 L365.8 127.2 L367.9 129.5 L366.0 127.0 L367.2 129.8 L368.1 129.5 L366.0 128.8 L368.9 130.4 L369.2 131.2 L369.4 133.0 L367.7 135.6 L368.5 136.3 L368.0 141.2 L367.8 137.8 L369.0 141.4 L370.0 140.5 L369.0 136.7 L369.7 141.4 L371.0 142.8 L370.8 144.7 L372.0 145.0 L370.1 148.8 L370.7 147.8 L370.4 146.7 L369.6 150.0 L370.4 147.9 L370.2 149.6 L371.0 149.8 L371.8 151.7 L370.8 158.1 L373.2 153.3 L372.3 154.4 L372.1 154.8 L373.3 155.2 L372.7 156.7 L373.8 162.4 L372.7 162.4 L373.2 164.2 L373.3 167.5 L373.8 162.3 L374.2 167.9 L373.7 168.1 L374.2 168.4 L374.2 169.0 L373.6 171.9 L373.9 172.6 L374.6 173.9 L374.5 176.0 L377.1 175.4 L374.9 175.6 L373.6 180.3 L375.7 178.6 L376.0 180.1 L374.8 179.0 L376.5 183.8 L375.5 184.8 L377.5 181.3 L377.6 184.0 L377.3 185.5 L378.5 187.9 L378.5 183.4 L378.2 192.1 L378.4 189.8 L379.2 192.0 L378.8 190.6 L379.8 190.6 L380.7 193.2 L380.6 193.3 L379.2 196.2 L381.6 198.4 L381.9 196.9 L382.5 196.0 L384.1 196.9 L383.5 197.5 L385.2 201.7 L385.7 200.7 L386.3 199.7 L387.3 202.6 L387.8 205.8 L387.7 205.1 L387.1 205.8 L388.3 206.7 L389.5 208.3 L390.0 210.6 L392.9 207.5 L391.8 207.6 L390.3 211.6 L392.7 213.9 L392.9 213.2 L392.2 214.6 L395.2 215.2 L395.8 215.0 L397.5 217.6 L397.2 216.1 L398.3 219.9 L399.4 217.6 L399.0 217.2 L400.4 221.9 L401.4 219.4 L402.3 221.2 L404.4 221.3" stroke="#000" stroke-width="1.9" fill="none" stroke-dasharray="0.01 4.3" stroke-linecap="round" stroke-linejoin="round"/>
<path d="M255.7 222.5 L257.5 222.6 L259.1 222.0 L261.1 220.7 L263.0 222.0 L264.7 221.9 L266.5 221.0 L268.8 221.4 L270.0 221.8 L272.2 221.1 L274.0 219.8 L275.6 220.2 L277.5 220.8 L279.0 220.7 L280.6 219.8 L282.8 221.2 L284.2 221.3 L285.9 219.3 L287.7 220.7 L289.7 221.2 L291.3 219.6 L293.1 221.1 L294.6 220.6 L296.4 221.2 L298.0 219.8 L300.2 218.4 L301.6 219.6 L303.5 219.0 L304.9 220.0 L306.7 219.1 L308.6 219.1 L310.6 217.5 L312.4 215.0 L313.3 215.5 L314.2 214.0 L315.2 212.4 L316.2 211.4 L317.1 211.0 L318.3 210.1 L319.1 208.9 L319.9 204.0 L321.1 204.4 L321.7 202.3 L322.7 201.2 L323.9 198.9 L324.8 198.0 L325.7 194.2 L326.9 192.7 L327.7 195.3 L328.6 190.2 L329.6 191.2 L330.6 188.9 L331.9 188.4 L332.3 184.2 L332.6 179.6 L333.3 184.5 L334.1 179.6 L334.7 183.7 L335.5 186.6 L336.1 185.0 L336.7 183.5 L336.8 181.5 L337.4 180.4 L338.0 179.4 L338.7 179.4 L339.4 178.4 L340.3 175.8 L341.5 172.0 L342.4 171.1 L343.0 169.7 L343.7 171.0 L344.0 168.4 L345.0 167.4 L345.5 164.6 L346.3 167.3 L347.2 161.4 L348.1 161.4 L348.5 160.4 L349.7 158.2 L349.7 155.2 L350.2 154.0 L350.8 150.9 L351.0 151.0 L351.3 149.6 L351.8 149.0 L352.2 147.5 L352.7 145.6 L353.0 144.7 L353.4 139.3 L353.9 136.9 L353.6 135.3 L354.2 135.4 L354.2 135.0 L354.2 132.4 L354.1 130.2 L354.9 128.4 L355.6 127.8 L356.5 119.9 L357.2 121.8 L358.1 121.8 L359.2 121.2 L360.0 123.7 L361.0 128.2 L361.2 122.0 L361.4 122.4 L362.1 121.7 L362.2 117.8 L362.7 116.9 L362.7 119.1 L363.2 115.9 L363.3 113.2 L363.8 110.9 L364.2 110.4 L365.0 107.5 L365.3 105.9 L365.7 103.3 L366.4 105.5 L366.8 102.1 L368.1 101.1 L369.4 98.1 L369.9 95.4 L370.3 94.1 L370.6 92.7 L371.0 89.2 L371.4 86.5 L372.1 86.8 L372.5 84.7 L373.2 84.8 L373.5 89.0 L374.1 83.6 L374.9 86.1 L375.5 87.4 L376.3 91.6 L377.7 85.2 L379.1 91.0 L379.8 89.2 L380.1 93.0 L380.4 90.4 L380.9 89.9 L381.2 94.2 L381.7 94.6 L382.3 96.7 L383.1 102.5 L383.5 105.7 L383.7 106.2 L384.4 109.2 L384.7 108.9 L384.9 113.2 L385.6 113.1 L385.8 112.5 L386.3 117.5 L386.5 118.5 L387.2 118.1 L387.0 119.2 L387.4 123.4 L387.7 125.5 L387.7 130.3 L387.8 130.3 L388.3 133.2 L388.6 134.6 L388.4 135.4 L388.9 138.2 L389.2 138.6 L389.6 139.3 L389.8 141.6 L389.8 145.1 L389.8 144.7 L390.1 147.1 L390.2 149.6 L390.4 150.3 L390.6 152.6 L390.9 155.9 L391.3 155.7 L391.1 156.1 L391.1 157.3 L391.3 159.3 L391.5 161.2 L391.7 164.7 L391.8 168.8 L392.0 169.7 L392.2 168.3 L392.6 171.4 L392.6 172.5 L392.8 174.8 L393.0 177.6 L393.3 178.5 L393.5 180.0 L393.9 181.3 L394.3 184.1 L394.5 185.1 L394.8 186.1 L395.1 188.2 L395.2 189.5 L395.7 191.7 L395.9 194.6 L396.7 197.1 L396.9 198.8 L397.5 199.2 L397.8 199.5 L398.5 202.5 L398.8 204.9 L399.3 205.8 L399.9 207.9 L400.1 211.0 L401.2 212.2 L402.0 215.0 L403.4 215.9 L404.2 216.9 L405.3 218.3 L406.8 219.6 L408.7 219.2 L410.2 219.9 L412.2 220.1 L413.8 220.3 L415.7 220.2 L417.2 220.7 L419.5 221.3 L421.4 220.8" stroke="#000" stroke-width="1.75" fill="none" stroke-linejoin="round"/>
<path d="M55.7 338.7 L55.7 340.3 L55.6 337.6 L55.9 336.3 L56.0 334.1 L56.2 332.9 L56.1 330.3 L56.6 329.3 L56.4 330.4 L56.7 327.3 L56.7 328.0 L57.2 328.7 L56.9 325.8 L57.2 325.9 L57.2 323.7 L57.3 320.3 L57.8 320.1 L57.8 320.0 L57.8 316.4 L58.1 317.2 L58.0 315.0 L58.6 314.0 L58.6 313.1 L58.8 315.5 L59.0 308.6 L59.2 310.7 L59.4 306.8 L60.0 305.3 L59.8 303.7 L60.6 305.9 L60.9 302.9 L61.5 301.7 L62.0 303.3 L62.3 305.4 L63.2 301.8 L64.0 300.4 L65.0 307.2 L65.2 304.5 L65.6 300.5 L65.9 301.0 L66.2 302.1 L66.2 298.7 L66.2 297.7 L66.7 293.7 L67.1 293.0 L67.1 292.7 L67.4 290.0 L67.5 289.4 L67.9 287.1 L68.0 286.2 L68.1 285.3 L68.1 284.6 L68.2 284.3 L68.5 282.5 L68.2 279.3 L68.7 282.4 L68.6 280.7 L68.8 278.4 L68.9 275.6 L69.0 276.6 L69.0 273.0 L69.4 273.8 L69.4 272.3 L69.3 273.2 L69.4 270.1 L69.6 267.6 L69.8 267.9 L70.0 267.1 L70.5 266.8 L70.7 268.3 L70.5 271.7 L71.1 271.0 L71.4 273.9 L71.8 275.5 L72.3 275.4 L72.4 273.9 L72.4 275.4 L72.9 278.6 L72.6 278.2 L73.1 281.1 L73.2 281.2 L73.3 283.5 L73.4 284.1 L73.6 287.6 L74.0 287.1 L73.8 285.7 L73.8 288.5 L74.3 288.1 L74.2 289.9 L74.2 291.7 L74.4 291.9 L74.8 294.7 L74.7 299.1 L74.7 293.7 L75.0 292.0 L74.9 289.8 L75.3 289.4 L75.3 287.5 L75.2 287.6 L75.3 286.8 L75.8 285.1 L75.6 284.9 L75.9 283.9 L75.6 279.2 L76.0 280.8 L76.0 279.7 L76.1 278.3 L76.0 279.2 L76.4 277.9 L76.1 276.0 L76.4 274.7 L76.6 271.6 L76.6 271.3 L76.6 266.4 L77.0 270.8 L77.1 273.3 L77.1 274.2 L77.7 274.5 L78.2 274.9 L78.0 275.4 L78.4 278.6 L78.6 276.0 L79.2 279.0 L79.2 276.6 L79.5 276.7 L79.6 272.8 L80.1 271.2 L80.3 273.8 L80.6 271.0 L80.8 273.0 L81.0 275.7 L81.2 275.0 L81.3 277.6 L81.5 277.4 L81.9 276.7 L82.2 278.3 L82.3 282.0 L82.8 284.1 L82.9 283.5 L83.2 284.7 L83.3 286.6 L83.5 288.2 L83.5 289.8 L83.6 290.5 L83.8 291.5 L83.8 294.4 L84.1 292.8 L84.1 295.2 L84.4 296.6 L84.1 297.3 L84.6 296.3 L84.1 299.0 L84.3 301.3 L84.8 300.5 L84.5 302.3 L85.0 305.3 L84.9 306.4 L85.1 307.3 L85.3 309.6 L85.4 307.8 L85.7 309.7 L85.7 311.3 L85.8 310.2 L86.1 312.8 L86.7 314.1 L86.5 316.4 L86.7 318.1 L86.8 317.7 L87.0 317.7 L87.5 322.6 L87.6 319.9 L87.6 323.8 L87.6 322.7 L87.9 324.6 L88.0 323.8 L88.1 325.8 L88.2 328.5 L88.3 328.6 L88.3 329.4 L88.0 332.1 L88.3 333.1 L88.1 333.5 L88.2 335.7 L88.4 337.0 L88.4 337.2 L89.1 337.8 L89.1 342.4 L89.4 339.5 L89.9 342.2 L90.0 342.5 L90.1 342.7 L90.3 344.3 L90.5 345.8 L90.5 349.7 L91.0 351.1 L91.1 349.7 L91.4 353.0 L91.6 353.4 L91.9 352.9 L92.3 355.3 L92.2 356.9 L92.8 356.2 L92.8 358.3 L93.1 360.1 L93.3 361.5 L93.7 361.2 L93.6 362.4 L94.3 363.8 L94.5 365.0 L94.8 366.6 L95.0 367.3 L94.9 370.9 L95.2 370.0 L95.6 372.2 L95.7 373.3 L96.0 373.8 L96.1 375.1 L96.2 376.1 L96.3 375.8 L96.7 376.8 L96.7 378.2 L97.3 379.2 L97.2 379.6 L97.1 382.3 L97.8 382.9 L97.9 383.2 L98.1 385.9 L98.3 388.1 L98.6 389.5 L98.8 390.0 L98.8 392.8 L99.3 390.9 L99.4 394.4 L99.6 395.2 L99.7 395.8 L100.2 396.0 L100.3 397.2 L100.5 399.4 L100.6 400.5 L101.0 400.6 L101.3 403.8 L102.0 404.5 L102.3 405.4 L102.7 404.8 L103.1 406.1 L103.6 408.3 L104.3 408.6 L105.4 409.1 L106.0 410.4 L106.8 411.3 L107.8 413.6 L108.7 412.8 L109.2 413.9 L110.4 412.4 L111.6 414.9 L112.5 415.3 L113.9 417.8 L115.1 416.0 L116.1 415.7 L117.1 417.8 L118.3 418.0 L119.4 418.7 L120.8 418.6 L121.9 418.6 L123.2 418.3 L124.3 419.0 L125.3 418.8 L126.5 419.4 L127.7 419.5 L129.1 420.0 L130.2 419.8 L131.4 419.6 L133.0 419.0 L134.0 419.0 L135.1 420.0 L136.4 419.4" stroke="#000" stroke-width="1.1" fill="none" stroke-linejoin="round"/>
<path d="M56.3 328.5 L56.1 328.5 L56.7 326.7 L58.1 325.7 L57.8 324.9 L58.0 322.1 L57.8 320.8 L58.8 320.2 L58.5 322.0 L58.8 318.8 L58.6 318.0 L59.8 317.1 L59.0 314.5 L60.0 313.1 L59.3 312.6 L59.8 310.9 L60.1 309.8 L60.5 307.8 L61.1 307.0 L60.9 308.3 L61.1 305.2 L61.5 305.7 L61.2 302.7 L61.4 300.7 L62.5 300.8 L62.5 299.4 L62.1 299.3 L62.2 297.4 L63.2 297.2 L62.9 294.4 L62.9 292.5 L63.3 291.8 L62.9 290.0 L64.1 290.2 L64.5 289.6 L64.8 288.3 L64.5 288.2 L65.1 284.3 L65.3 283.3 L65.1 284.5 L65.6 288.5 L65.9 288.0 L66.9 290.2 L67.1 287.9 L67.9 290.1 L66.5 293.7 L67.6 295.6 L67.6 291.7 L68.3 295.6 L68.4 294.7 L67.8 295.1 L68.0 292.0 L68.3 290.1 L69.0 288.8 L68.2 287.3 L68.5 286.5 L69.1 287.5 L69.5 285.3 L69.1 282.7 L69.3 282.2 L69.1 281.2 L69.6 280.3 L69.4 277.4 L69.4 276.3 L70.4 274.9 L70.2 275.4 L69.9 274.1 L69.7 273.4 L70.3 271.9 L69.6 271.4 L70.7 271.2 L70.4 267.9 L70.9 268.2 L70.4 266.0 L71.0 260.9 L71.2 263.2 L70.6 266.2 L71.7 266.1 L71.1 269.1 L71.8 269.3 L71.8 272.0 L72.0 272.4 L72.2 275.8 L71.5 273.9 L72.8 278.4 L72.7 276.6 L73.5 279.8 L73.7 282.4 L73.5 278.4 L73.7 281.0 L73.9 285.0 L74.3 282.7 L74.0 281.4 L73.7 279.5 L74.2 278.7 L73.7 278.4 L74.5 275.0 L74.0 275.1 L74.1 271.1 L74.2 272.8 L74.2 273.4 L73.8 270.4 L74.1 269.3 L74.5 267.7 L74.5 268.9 L74.3 265.4 L74.8 263.3 L74.7 265.7 L75.5 264.6 L75.2 267.7 L75.3 268.2 L74.8 266.8 L75.5 269.9 L76.2 272.3 L75.7 270.3 L76.3 273.3 L76.6 274.4 L76.9 273.6 L76.6 278.0 L76.8 277.9 L76.9 280.8 L77.5 282.5 L77.5 280.7 L78.3 281.6 L78.8 279.2 L79.0 279.4 L79.5 279.7 L79.5 273.8 L79.6 273.3 L80.2 270.8 L80.7 272.8 L80.4 275.8 L80.7 276.8 L81.5 277.1 L81.4 280.9 L81.3 279.9 L80.9 281.0 L81.6 284.1 L81.3 284.4 L81.3 285.6 L81.3 283.9 L81.3 287.1 L81.1 289.3 L81.7 291.9 L82.0 292.4 L81.7 292.2 L81.5 296.9 L81.4 297.5 L82.5 297.3 L82.3 298.1 L81.9 297.8 L83.2 301.3 L82.1 302.3 L82.5 303.4 L84.0 303.4 L83.1 302.7 L83.7 305.2 L83.8 305.9 L83.9 307.5 L84.1 309.3 L84.4 310.9 L84.4 313.3 L84.7 312.2 L84.9 313.7 L85.4 314.9 L85.2 318.2 L85.6 316.9 L85.6 320.0 L85.2 320.3 L86.5 322.3 L86.5 322.1 L86.8 325.7 L86.8 324.8 L86.8 325.7 L87.1 328.8 L86.9 329.6 L87.5 330.3 L87.9 331.6 L88.2 333.7 L87.6 336.5 L87.8 335.8 L88.0 338.2 L87.9 338.3 L88.0 339.9 L87.7 339.9 L88.6 341.9 L88.4 343.7 L88.7 341.1 L88.8 342.5 L88.7 346.3 L89.8 345.9 L89.4 348.0 L90.3 348.1 L90.0 349.6 L89.9 353.6 L90.8 354.0 L90.6 356.2 L90.9 356.7 L90.6 357.9 L91.3 356.2 L91.8 356.2 L92.0 359.7 L92.5 362.6 L92.3 363.7 L92.6 363.7 L92.4 365.0 L93.3 365.0 L93.0 366.3 L93.1 367.5 L94.5 369.4 L93.6 369.6 L93.9 370.9 L94.3 373.4 L94.6 375.7 L95.2 375.8 L95.6 375.6 L95.6 377.2 L95.5 379.1 L96.0 381.0 L95.9 381.4 L96.8 383.2 L95.9 382.4 L97.1 384.1 L97.0 386.0 L97.1 386.1 L97.7 388.9 L97.7 390.1 L97.2 390.6 L98.4 392.1 L98.0 393.4 L98.1 393.2 L98.4 394.6 L98.7 396.3 L99.3 399.3 L99.2 399.0 L99.4 399.9 L99.4 401.1 L99.8 403.1 L100.4 403.4 L100.5 405.0 L101.4 405.7 L101.8 405.7 L103.0 408.1 L103.9 407.6 L103.8 411.0 L104.1 408.6 L105.3 412.4 L107.0 411.6 L107.3 414.2 L108.3 413.1 L109.6 414.6 L110.2 415.3 L111.1 416.4 L111.8 416.7 L113.4 416.8 L115.0 418.6 L115.6 417.8 L116.8 418.0 L117.8 417.7 L118.7 419.2 L121.0 418.8 L121.6 419.1 L123.3 418.8 L124.1 418.5 L124.9 418.8 L126.6 419.2" stroke="#000" stroke-width="1.3" fill="none" stroke-dasharray="0.01 1.9" stroke-linecap="round" stroke-linejoin="round"/>
<path d="M58.3 383.2 L57.6 382.3 L56.9 384.0 L58.4 380.3 L58.1 384.5 L58.1 381.6 L58.6 377.8 L58.7 378.0 L59.8 377.6 L59.6 374.9 L58.1 371.3 L59.6 372.5 L60.4 377.9 L60.6 368.4 L60.5 370.1 L60.1 367.7 L61.6 371.5 L60.9 367.7 L62.7 368.1 L61.4 366.4 L63.6 365.8 L63.1 362.7 L63.3 362.8 L63.3 359.0 L64.8 361.6 L65.0 361.7 L66.3 359.0 L66.9 355.8 L66.4 356.6 L67.6 354.3 L66.7 355.5 L67.3 351.3 L67.5 354.4 L68.5 352.7 L66.9 351.0 L69.1 346.0 L69.1 349.2 L67.7 346.5 L70.8 347.9 L70.6 342.1 L70.9 348.6 L72.8 345.1 L72.3 338.7 L72.4 342.8 L72.1 333.9 L72.7 336.3 L73.2 338.0 L74.5 335.8 L72.9 333.0 L74.0 337.8 L74.4 330.4 L74.6 333.0 L75.7 326.8 L74.8 327.1 L75.7 326.0 L73.6 328.9 L76.2 324.6 L77.2 318.6 L75.5 325.8 L76.4 324.9 L76.7 318.6 L79.0 321.9 L79.0 328.9 L78.8 322.3 L81.7 321.2 L81.0 328.2 L80.7 322.9 L80.0 318.9 L81.0 320.9 L82.1 323.5 L80.2 321.2 L83.1 318.8 L82.8 318.1 L81.9 311.8 L83.3 313.1 L81.5 316.8 L83.0 309.5 L83.5 311.3 L82.8 311.0 L85.1 306.7 L84.2 310.4 L84.1 307.4 L84.0 304.2 L84.8 308.9 L85.3 303.5 L85.5 301.7 L84.8 299.5 L83.9 298.9 L85.6 298.9 L86.4 300.4 L86.5 299.5 L86.0 302.8 L86.1 297.8 L87.3 305.5 L88.3 307.0 L86.7 305.4 L89.3 304.1 L88.3 305.6 L88.7 307.7 L88.2 304.4 L91.7 313.4 L89.5 310.2 L90.6 312.1 L90.9 313.9 L90.6 311.7 L90.9 316.5 L90.8 317.3 L92.1 322.0 L92.8 315.6 L92.1 318.4 L92.9 322.8 L94.3 325.2 L94.0 320.9 L94.4 321.4 L94.4 326.5 L94.1 331.0 L93.6 326.2 L94.7 328.0 L93.9 332.2 L95.0 332.2 L94.8 330.8 L95.4 334.0 L96.7 335.6 L94.8 338.6 L97.1 335.4 L96.7 342.1 L97.1 336.7 L96.3 336.7 L98.2 335.1 L98.0 340.5 L96.7 339.4 L98.4 338.9 L98.3 339.0 L97.5 343.6 L98.8 342.9 L97.2 341.5 L98.1 345.3 L101.9 350.2 L99.4 347.4 L99.8 351.0 L99.8 349.1 L100.6 347.5 L99.4 351.6 L100.3 348.0 L99.3 349.7 L101.1 354.3 L100.1 355.9 L101.0 355.3 L102.7 358.3 L101.5 353.9 L100.5 365.0 L102.8 361.6 L102.2 359.7 L101.0 362.1 L102.6 365.2 L103.4 363.4 L104.2 365.9 L101.8 364.6 L102.8 366.1 L103.6 368.8 L103.9 372.2 L103.4 369.6 L103.9 375.3 L103.8 370.6 L104.5 374.1 L105.4 377.8 L105.9 374.5 L105.4 381.3 L105.6 376.4 L106.7 379.8 L107.2 379.0 L106.5 380.5 L108.3 382.8 L108.4 384.1 L107.6 386.3 L108.9 386.9 L109.9 390.1 L109.6 386.8 L111.5 392.6 L112.5 391.8 L113.1 390.5 L112.7 390.4 L112.9 391.8 L115.3 391.8 L114.6 394.5 L116.3 396.6 L115.8 395.2 L116.2 399.0 L116.1 403.0 L117.4 401.5 L117.9 397.4 L118.7 400.7 L119.2 401.7 L120.9 401.5 L120.4 402.3 L122.5 404.0 L123.4 402.3 L124.0 404.2 L126.2 405.6 L124.7 408.5 L126.2 406.8 L126.8 405.8 L128.3 408.1 L128.2 413.9 L129.8 411.1 L130.5 412.6 L132.6 411.4 L132.1 412.7 L133.6 411.8 L132.9 414.8 L135.8 414.6 L135.2 411.4 L136.4 411.1 L134.5 408.9 L136.7 409.1 L137.5 405.4 L137.8 410.1 L137.5 406.4 L138.2 404.4 L139.7 403.7 L138.7 404.5 L139.7 399.4 L139.2 402.7 L138.7 405.2 L140.6 407.9 L139.5 405.8 L141.9 407.7 L141.3 408.0 L140.1 409.6 L142.9 411.5 L143.6 409.8 L145.4 407.8 L146.3 410.0 L146.3 408.4 L147.7 410.4 L148.3 406.4 L149.7 408.1 L151.5 404.7 L151.7 410.5 L154.5 407.2 L153.7 404.9 L154.4 407.8 L154.9 404.0 L155.1 402.9 L156.8 403.9 L154.9 400.7 L155.6 403.3 L156.4 400.3 L157.5 399.0 L158.4 393.8 L158.3 398.6 L160.0 401.7 L160.6 398.8 L161.7 395.4 L162.6 391.2 L163.5 393.9 L163.4 394.0 L165.1 392.0 L164.7 393.6 L164.9 393.1 L167.0 391.0 L166.5 387.2 L169.5 386.2 L167.6 388.0 L168.6 383.5 L169.1 391.5 L169.0 387.8 L169.3 388.8 L170.5 388.6 L170.4 390.7 L171.4 383.4 L173.4 391.1 L173.8 390.9 L174.0 384.6 L173.5 385.7 L174.4 388.1 L175.1 389.0 L175.0 387.8 L174.4 390.5 L176.9 391.4 L176.5 392.7 L176.4 393.6 L177.0 393.6 L177.3 395.2 L178.1 396.1 L177.2 396.7 L180.7 396.2 L178.2 399.4 L178.5 399.0 L180.4 402.2 L180.2 401.0 L179.9 404.4 L180.9 406.0 L181.1 404.4 L181.3 407.3 L183.0 406.3 L183.1 409.4 L183.4 410.4 L184.4 410.5 L184.2 410.4 L184.3 411.5 L185.6 413.3 L187.5 412.8 L185.8 414.5 L186.6 416.6 L188.4 418.0 L189.3 416.0 L191.0 417.3 L190.2 419.1 L192.7 419.7 L192.4 420.2" stroke="#000" stroke-width="1.9" fill="none" stroke-dasharray="0.01 4.3" stroke-linecap="round" stroke-linejoin="round"/>
<path d="M56.2 320.8 L56.3 324.3 L56.2 327.4 L56.3 326.0 L56.6 330.4 L56.6 334.4 L56.4 335.4 L56.5 336.1 L56.5 339.2 L56.6 340.5 L56.8 342.4 L56.7 342.6 L57.0 343.1 L57.0 345.6 L56.9 344.8 L56.8 347.6 L57.3 350.6 L57.5 351.6 L57.8 353.9 L58.0 356.3 L58.3 358.9 L58.8 359.5 L59.1 360.4 L59.4 364.3 L59.3 366.7 L60.1 364.9 L60.3 361.6 L61.4 357.1 L61.8 358.0 L62.0 355.1 L62.8 353.3 L63.3 349.8 L64.0 350.2 L63.7 346.7 L64.0 345.9 L64.3 343.3 L64.3 341.3 L64.5 343.1 L64.7 340.1 L65.0 338.7 L65.2 334.1 L65.0 333.0 L65.1 333.6 L65.4 328.1 L66.2 325.0 L66.3 323.6 L67.2 320.3 L67.9 319.1 L68.6 317.2 L68.9 318.8 L70.2 318.6 L72.0 315.1 L72.6 314.9 L72.8 311.8 L73.3 312.9 L74.0 309.2 L74.4 309.0 L75.0 307.1 L75.4 303.6 L75.8 303.2 L76.2 301.3 L76.9 298.7 L77.0 301.9 L77.5 304.3 L77.5 307.8 L78.2 308.7 L78.3 307.0 L78.4 312.8 L79.6 315.2 L80.4 312.9 L81.5 315.5 L82.4 311.1 L82.7 309.6 L83.1 309.5 L83.2 307.6 L83.3 306.1 L83.7 304.2 L83.9 303.6 L84.0 301.1 L84.1 296.9 L84.3 295.7 L84.8 300.1 L85.6 301.9 L86.0 304.7 L86.2 305.9 L86.9 307.6 L87.4 308.2 L87.8 312.4 L88.4 313.0 L88.7 315.2 L89.0 316.7 L89.4 317.9 L89.3 318.7 L89.7 321.3 L90.1 321.4 L90.6 322.4 L91.0 324.5 L91.0 327.3 L91.5 330.3 L92.0 329.9 L92.7 331.6 L93.1 333.9 L93.7 336.6 L93.8 335.9 L95.0 335.2 L95.8 335.9 L95.9 337.7 L96.2 338.4 L96.4 341.8 L97.1 343.6 L97.5 346.5 L97.9 348.1 L98.2 348.9 L98.6 351.0 L99.5 352.6 L99.6 351.9 L99.9 354.1 L100.5 356.5 L101.0 359.8 L101.3 360.4 L101.5 364.3 L101.9 363.3 L102.3 364.6 L102.7 368.7 L103.2 368.7 L103.8 372.0 L104.3 372.9 L104.8 374.0 L105.1 375.8 L105.5 377.6 L106.3 380.8 L106.7 382.2 L107.1 384.5 L107.5 385.4 L108.3 385.1 L108.7 388.1 L109.2 389.2 L110.0 390.2 L110.3 392.0 L110.6 393.4 L111.4 396.4 L111.8 396.5 L112.0 399.6 L112.4 400.0 L113.7 400.2 L115.0 399.4 L116.0 401.6 L117.1 399.5 L118.7 401.8 L119.5 402.5 L121.0 405.2 L121.8 404.2 L123.9 407.2 L125.7 406.7 L127.6 406.9 L129.6 407.4 L131.8 408.7 L133.4 409.1 L135.2 408.1 L136.1 406.4 L137.2 405.5 L137.7 400.6 L138.9 402.1 L139.3 401.5 L139.7 404.1 L140.3 406.3 L140.9 409.5 L141.7 407.7 L142.8 407.5 L143.3 408.6 L144.6 406.6 L145.5 404.6 L146.5 405.5 L147.3 406.8 L148.4 409.7 L150.0 409.1 L151.2 408.1 L152.7 404.3 L154.3 405.1 L155.5 403.9 L156.7 405.1 L158.2 403.0 L158.8 405.9 L159.2 408.6 L159.7 411.5 L161.0 408.4 L161.8 407.4 L163.0 403.0 L163.9 406.4 L165.4 408.8 L166.8 408.1 L168.6 408.7 L170.7 407.2 L171.6 409.7 L172.6 411.4 L173.9 412.1 L174.8 411.3 L176.7 414.0 L176.8 416.1 L177.3 416.9 L178.1 416.2 L178.6 415.3 L179.8 413.5 L180.0 411.9 L181.8 411.5 L183.0 413.7 L184.4 416.1 L185.7 418.4 L187.2 419.2 L188.7 418.8 L190.8 420.1 L192.8 419.3" stroke="#000" stroke-width="1.75" fill="none" stroke-linejoin="round"/>
<path d="M254.5 340.3 L254.8 337.5 L254.9 338.2 L255.0 335.3 L255.2 335.2 L255.3 333.6 L255.5 335.2 L255.3 331.4 L255.6 331.8 L255.8 329.4 L255.8 326.0 L256.1 326.5 L256.4 324.3 L256.2 321.9 L256.3 323.6 L256.7 322.2 L256.6 321.7 L257.0 320.1 L257.1 319.6 L257.3 319.6 L257.3 317.4 L257.6 313.5 L257.7 312.9 L258.1 309.7 L258.2 310.0 L258.5 309.2 L258.3 310.5 L259.1 307.1 L259.1 304.8 L259.8 305.9 L260.2 305.8 L260.6 305.3 L261.1 301.0 L261.4 301.4 L262.4 307.9 L263.5 302.9 L264.0 305.1 L264.5 304.6 L264.5 298.6 L264.8 299.0 L265.3 299.2 L265.6 296.0 L265.4 295.5 L265.9 293.7 L266.2 294.1 L266.4 293.8 L266.5 291.6 L266.7 288.5 L266.8 288.4 L267.1 287.9 L267.2 286.1 L267.3 286.0 L267.8 284.0 L267.6 282.2 L267.5 284.4 L267.7 282.6 L267.9 280.1 L268.0 276.9 L268.1 276.8 L267.9 276.4 L268.1 271.9 L268.2 272.2 L268.6 271.3 L268.4 271.5 L268.7 271.0 L268.8 270.1 L268.9 267.6 L269.0 266.1 L269.4 267.8 L269.9 267.7 L270.1 270.9 L270.5 271.0 L270.6 272.0 L271.1 272.3 L271.2 275.4 L271.3 276.7 L271.3 277.1 L271.9 278.3 L272.1 278.9 L272.2 283.0 L272.2 282.8 L272.3 283.4 L272.6 282.4 L272.6 285.8 L272.9 285.8 L272.9 286.7 L273.2 289.5 L273.2 288.0 L273.5 291.0 L273.3 291.9 L273.5 293.2 L273.6 294.4 L274.1 302.3 L273.7 294.8 L273.9 292.1 L274.3 291.8 L274.1 290.2 L274.3 286.8 L274.5 287.2 L274.4 284.2 L274.7 285.1 L274.4 282.5 L274.9 281.2 L275.0 280.2 L274.8 277.6 L274.9 276.5 L275.2 277.3 L275.6 276.2 L275.3 277.5 L275.4 276.3 L275.6 274.7 L275.7 273.3 L275.8 273.0 L275.6 267.4 L275.9 268.3 L276.2 270.2 L276.3 274.7 L276.6 274.8 L276.9 275.0 L277.4 276.9 L277.4 275.1 L277.8 283.4 L278.1 282.0 L278.1 278.4 L278.5 277.2 L278.6 275.6 L279.1 273.7 L279.3 274.6 L279.8 272.5 L279.7 274.7 L280.2 274.3 L280.4 275.7 L280.3 276.8 L280.7 279.0 L280.7 277.9 L281.0 278.4 L281.1 280.4 L281.5 280.8 L281.7 284.8 L282.2 285.2 L282.1 285.4 L282.3 287.2 L282.6 287.0 L282.6 289.1 L282.8 290.6 L282.9 291.3 L283.0 293.3 L283.1 293.3 L283.2 294.7 L283.5 294.8 L283.4 295.7 L283.4 297.8 L283.4 298.1 L284.1 302.8 L283.7 305.9 L283.9 304.9 L284.2 305.5 L284.3 305.4 L284.4 306.7 L284.5 310.0 L284.2 312.6 L285.0 313.1 L284.9 313.0 L284.8 312.7 L285.3 312.8 L285.6 314.1 L285.7 315.7 L285.9 316.9 L286.1 319.8 L285.9 317.0 L286.5 322.1 L286.8 322.4 L286.9 322.1 L287.2 324.7 L287.2 325.9 L287.5 326.5 L287.2 327.7 L287.1 328.5 L287.2 331.0 L287.5 331.9 L287.6 332.2 L287.2 332.7 L287.3 335.2 L287.8 336.7 L287.8 337.8 L288.1 338.0 L288.3 337.3 L288.3 341.6 L288.6 341.0 L289.1 340.2 L289.1 344.2 L289.2 345.2 L289.5 347.7 L289.6 347.2 L289.9 349.8 L290.4 351.5 L290.3 352.0 L290.7 353.8 L290.9 353.3 L291.4 355.2 L291.5 356.3 L291.8 357.7 L292.0 357.9 L292.2 358.7 L292.6 360.9 L292.5 363.0 L292.9 364.5 L293.5 366.6 L293.3 367.3 L293.5 369.1 L294.0 368.3 L294.1 370.4 L294.4 372.6 L294.5 372.8 L295.0 373.6 L294.8 373.8 L295.3 376.6 L295.5 376.4 L295.5 378.4 L295.8 378.4 L295.8 377.1 L296.2 379.3 L296.3 380.7 L296.5 383.1 L296.6 385.2 L296.8 385.7 L297.0 386.2 L297.3 388.2 L297.8 390.3 L297.8 390.2 L298.1 391.1 L298.3 391.1 L298.6 393.9 L298.8 393.7 L299.1 396.1 L299.2 395.5 L299.4 398.3 L299.6 399.9 L299.6 401.1 L300.3 400.7 L300.8 402.5 L301.1 403.6 L301.5 404.5 L301.9 406.1 L302.2 406.9 L302.9 408.5 L303.4 410.4 L304.4 410.1 L305.0 409.9 L306.0 411.7 L306.8 412.2 L307.7 413.2 L308.4 411.9 L309.8 412.5 L310.8 414.0 L311.8 413.7 L313.0 415.7 L314.0 416.4 L315.2 416.8 L316.3 417.2 L317.3 418.2 L318.6 417.4 L319.8 418.3 L320.7 418.3 L322.0 419.3 L323.6 418.9 L324.7 419.6 L325.8 419.6 L327.1 420.4 L328.3 419.4 L329.2 419.1 L330.7 419.7 L331.5 419.6 L332.9 419.6 L334.1 419.8 L335.4 419.4" stroke="#000" stroke-width="1.1" fill="none" stroke-linejoin="round"/>
<path d="M255.1 331.4 L256.1 327.1 L255.9 326.1 L256.7 325.5 L256.9 324.6 L257.5 322.7 L256.7 321.4 L257.9 321.0 L257.9 321.1 L257.9 320.1 L257.6 318.9 L258.3 315.2 L258.7 313.4 L258.6 314.5 L259.2 313.9 L259.3 313.0 L259.5 310.0 L259.5 308.9 L259.4 307.1 L260.0 305.6 L260.2 303.8 L260.5 302.9 L260.9 302.2 L260.5 300.4 L261.4 301.1 L261.7 297.9 L261.4 297.8 L261.4 296.2 L262.2 295.7 L262.1 295.7 L262.1 295.3 L262.6 294.4 L263.0 292.7 L263.6 290.2 L263.4 289.5 L263.5 285.8 L263.3 286.9 L264.5 282.8 L264.6 286.8 L264.6 287.5 L264.8 291.1 L265.5 291.4 L265.8 293.5 L266.1 292.9 L266.2 293.4 L266.6 295.6 L266.8 296.6 L266.9 295.9 L266.7 294.0 L267.0 295.0 L267.4 293.8 L267.3 294.4 L268.1 293.3 L268.2 291.3 L268.3 288.4 L267.9 287.6 L268.3 286.4 L268.2 285.5 L267.9 282.6 L269.3 282.0 L268.5 282.3 L268.6 281.2 L269.3 281.3 L269.1 276.1 L269.1 276.6 L268.9 277.5 L268.5 272.4 L269.5 270.3 L268.8 271.5 L269.7 268.0 L269.6 268.9 L269.4 268.1 L270.0 266.5 L270.2 266.3 L270.6 264.6 L270.2 266.1 L270.0 264.7 L270.7 265.3 L270.7 267.1 L271.3 267.8 L270.5 270.2 L271.6 272.2 L271.7 273.2 L272.1 276.7 L271.6 278.1 L271.9 277.2 L271.6 277.5 L272.9 282.2 L272.7 282.6 L272.3 281.2 L272.4 283.0 L273.2 282.0 L272.6 280.7 L273.1 281.5 L273.3 279.7 L273.8 277.8 L273.3 279.0 L273.2 276.4 L273.4 273.4 L273.7 272.3 L273.3 271.9 L273.4 268.7 L274.0 268.4 L273.1 268.2 L274.1 268.2 L274.5 266.5 L273.4 266.0 L274.1 266.9 L274.3 266.0 L274.6 265.5 L274.4 268.3 L274.6 267.8 L274.8 270.4 L275.0 269.6 L275.0 271.9 L275.3 273.2 L274.8 274.6 L275.0 274.8 L275.4 279.6 L276.4 278.3 L276.5 279.9 L277.0 280.9 L276.7 283.7 L277.2 284.2 L277.9 279.3 L278.9 278.2 L278.4 279.6 L278.5 277.8 L279.0 273.0 L279.8 278.6 L279.1 275.3 L279.5 277.1 L279.8 277.0 L279.9 279.8 L279.8 281.0 L280.5 281.2 L280.1 282.1 L280.2 284.9 L280.1 284.0 L280.6 286.7 L280.1 286.5 L280.1 288.3 L281.5 287.8 L280.5 290.2 L280.4 292.3 L281.2 293.7 L281.0 296.2 L280.5 296.7 L281.4 297.8 L281.5 300.9 L280.9 300.6 L281.6 299.6 L282.0 303.1 L281.9 303.7 L283.2 304.5 L282.3 307.5 L282.3 306.3 L282.2 309.8 L282.8 309.4 L283.0 310.3 L283.2 312.6 L283.3 312.3 L283.6 313.6 L283.5 313.3 L284.4 318.0 L284.6 314.6 L283.8 316.0 L284.7 317.8 L284.8 319.5 L285.8 321.3 L286.2 322.2 L285.9 322.4 L286.4 325.7 L286.3 326.5 L287.0 328.1 L286.7 331.1 L286.9 329.9 L287.4 331.7 L286.5 332.1 L287.3 333.9 L285.9 333.1 L285.9 336.7 L286.8 335.4 L286.7 341.1 L287.0 342.4 L287.4 342.5 L287.8 341.9 L288.1 343.7 L288.1 344.0 L288.8 346.4 L288.8 348.3 L289.2 347.4 L289.0 350.6 L288.6 349.7 L289.4 351.7 L290.2 352.4 L290.1 353.5 L290.0 356.3 L290.4 355.4 L290.5 358.1 L291.2 357.7 L291.5 360.6 L291.6 362.4 L291.5 361.7 L291.8 363.5 L291.8 363.9 L292.4 366.5 L292.4 366.6 L292.6 368.1 L293.9 368.7 L293.4 371.7 L294.3 372.6 L293.2 374.6 L293.8 374.1 L294.4 375.9 L294.0 376.8 L294.3 377.2 L294.7 379.7 L295.2 379.7 L295.9 381.6 L295.4 383.5 L296.0 384.0 L295.7 385.3 L296.5 386.1 L296.5 385.3 L296.8 387.8 L296.7 389.3 L296.5 390.9 L296.3 390.4 L297.4 393.5 L297.4 394.1 L297.4 395.3 L297.9 397.2 L298.1 397.5 L298.3 398.8 L298.4 400.7 L298.6 401.7 L298.1 403.3 L298.9 403.7 L300.3 402.9 L300.5 406.0 L301.6 407.2 L301.6 408.2 L301.8 407.8 L302.9 408.5 L303.7 409.9 L305.5 413.3 L305.5 413.2 L306.6 414.5 L307.7 414.3 L308.5 416.2 L309.7 416.1 L310.4 416.3 L311.3 416.4 L312.5 416.0 L313.3 417.2 L315.0 417.7 L315.8 418.3 L317.1 418.3 L318.4 418.7 L319.4 418.2 L320.8 419.1 L322.0 419.4 L323.6 419.5 L324.6 419.6 L325.5 420.2" stroke="#000" stroke-width="1.3" fill="none" stroke-dasharray="0.01 1.9" stroke-linecap="round" stroke-linejoin="round"/>
<path d="M255.5 419.3 L256.6 418.7 L259.8 419.3 L259.5 416.4 L259.9 418.0 L259.7 419.0 L262.9 418.2 L264.0 417.4 L263.5 417.5 L264.4 416.0 L267.9 415.1 L267.2 411.5 L269.0 414.9 L267.9 416.5 L270.3 413.6 L271.1 413.9 L271.2 412.1 L272.9 414.1 L273.9 416.1 L274.2 416.7 L275.5 416.5 L275.9 416.1 L276.9 414.6 L277.1 415.3 L281.3 413.8 L280.4 414.5 L281.8 411.4 L283.1 413.5 L283.6 410.6 L283.8 410.1 L284.8 412.8 L286.9 414.4 L286.7 410.7 L287.0 412.8 L290.4 415.7 L290.8 412.8 L291.2 411.7 L293.7 415.8 L292.6 410.5 L293.3 412.6 L295.8 411.5 L296.8 409.2 L297.0 408.6 L297.9 408.9 L296.6 407.6 L300.0 406.8 L300.6 409.1 L299.8 408.6 L301.5 404.9 L303.3 406.3 L302.2 407.7 L304.9 409.4 L306.2 410.0 L304.6 405.4 L305.5 408.2 L307.2 413.3 L308.1 405.6 L309.0 406.9 L306.8 404.7 L309.6 403.0 L309.0 403.1 L309.8 403.2 L310.0 399.6 L311.6 399.8 L313.8 397.8 L314.2 396.5 L313.2 398.8 L311.0 395.1 L314.6 393.4 L314.5 393.4 L313.7 391.2 L314.6 393.7 L313.4 392.8 L315.5 390.1 L316.4 389.5 L315.8 385.7 L317.8 385.7 L319.1 384.8 L319.0 385.6 L319.5 382.1 L318.5 383.5 L320.7 381.6 L319.7 383.8 L320.3 377.5 L319.1 378.4 L321.4 376.3 L320.5 376.8 L321.1 376.8 L322.0 373.6 L321.4 373.9 L321.8 371.5 L323.1 368.4 L323.0 371.0 L321.3 371.5 L322.3 370.8 L323.3 363.2 L323.7 365.3 L324.1 361.9 L324.1 363.4 L324.7 363.1 L324.4 359.4 L325.1 363.3 L326.9 363.9 L325.4 356.0 L326.0 362.5 L326.5 357.4 L327.2 354.5 L327.9 353.7 L328.0 354.2 L327.3 355.8 L327.7 353.2 L327.7 349.9 L328.3 346.2 L329.4 345.7 L331.1 343.8 L328.7 344.8 L330.1 344.0 L329.6 344.4 L330.7 344.9 L331.4 340.3 L331.4 346.9 L330.9 344.1 L330.7 337.1 L331.3 340.8 L333.6 335.2 L333.0 339.8 L334.2 334.2 L334.2 335.9 L335.3 329.7 L333.8 333.7 L335.4 335.4 L336.6 330.5 L335.5 329.8 L337.9 323.6 L338.1 323.0 L337.5 326.1 L338.2 319.7 L339.7 319.6 L340.1 324.2 L342.0 328.1 L341.1 324.7 L340.6 322.8 L343.9 318.1 L342.0 319.3 L344.6 323.3 L344.7 317.2 L342.2 314.5 L343.5 312.5 L345.4 316.0 L345.3 312.0 L344.4 309.2 L345.3 310.2 L344.5 308.5 L345.4 308.2 L344.9 308.5 L345.2 308.9 L348.2 303.3 L346.9 305.5 L344.8 305.5 L346.4 302.0 L347.5 305.3 L348.9 295.5 L349.2 294.6 L348.7 294.4 L349.8 300.0 L349.7 293.1 L350.5 296.8 L351.1 293.4 L349.4 294.4 L351.2 293.1 L353.0 293.3 L351.8 287.0 L352.0 287.6 L353.2 294.2 L353.1 285.7 L354.1 288.0 L353.7 287.3 L354.7 281.8 L354.6 285.2 L355.7 282.2 L353.2 288.5 L356.2 284.9 L356.0 281.5 L356.6 286.6 L356.0 286.5 L356.3 290.2 L356.3 284.6 L356.1 288.8 L355.9 289.6 L356.5 290.9 L356.6 294.9 L357.3 295.3 L357.4 293.8 L357.3 295.5 L357.1 298.4 L357.9 302.5 L358.9 301.8 L358.2 301.7 L359.8 300.2 L361.0 301.3 L360.0 303.1 L359.4 300.3 L361.2 309.6 L361.6 309.5 L362.2 310.4 L361.4 309.3 L361.9 314.3 L362.4 314.8 L361.6 312.0 L363.1 315.3 L362.0 317.0 L362.4 313.6 L362.4 318.5 L361.4 316.8 L362.6 314.6 L362.4 318.4 L363.7 321.4 L361.6 322.5 L364.4 328.6 L362.9 322.1 L363.2 324.1 L362.3 329.7 L364.6 329.8 L362.8 331.5 L363.6 331.5 L363.0 332.5 L363.1 331.0 L364.2 333.8 L362.5 334.3 L365.1 331.0 L364.1 337.1 L364.0 340.2 L363.5 341.7 L365.3 341.8 L365.4 337.7 L365.9 342.5 L366.2 345.0 L367.1 343.0 L365.5 346.0 L367.2 346.7 L367.0 350.4 L368.2 348.8 L367.2 353.2 L369.0 351.3 L368.3 349.5 L369.1 354.0 L370.5 353.7 L369.1 354.3 L368.6 356.3 L369.9 356.6 L368.8 354.7 L370.5 360.8 L369.2 358.2 L370.6 360.2 L372.6 358.3 L370.8 361.6 L370.9 361.1 L370.6 362.3 L372.4 364.0 L374.1 364.8 L375.9 364.0 L374.4 367.4 L374.2 368.9 L374.3 368.3 L374.4 367.2 L374.0 374.3 L376.3 375.1 L375.1 372.9 L375.7 375.1 L375.4 375.6 L376.0 376.7 L375.8 378.8 L376.3 379.1 L376.8 378.7 L376.5 380.5 L376.9 381.6 L377.6 380.0 L377.3 382.1 L378.0 383.3 L377.4 387.1 L377.3 387.4 L379.4 384.1 L379.5 389.1 L379.8 393.0 L379.4 391.7 L380.4 393.4 L380.3 393.0 L380.6 394.1 L380.4 395.9 L382.3 398.4 L382.2 397.0 L383.0 398.3 L383.6 401.6 L382.9 402.9 L383.4 403.7 L384.0 405.8 L385.0 408.2 L385.5 407.7 L385.8 406.6 L385.9 406.8 L387.1 409.7 L386.0 410.9 L388.0 410.7 L388.8 413.9 L388.9 415.1 L389.6 413.1 L389.8 415.1 L390.7 417.8 L390.1 416.9 L392.4 417.3 L394.0 417.4 L395.5 417.6 L395.3 418.2 L396.6 418.5" stroke="#000" stroke-width="1.9" fill="none" stroke-dasharray="0.01 4.3" stroke-linecap="round" stroke-linejoin="round"/>
<path d="M254.9 402.4 L255.5 404.1 L255.9 406.6 L256.2 408.3 L256.6 409.3 L257.8 405.9 L258.6 406.4 L259.3 404.7 L260.1 407.8 L261.0 409.9 L261.6 407.4 L262.3 412.9 L262.8 409.9 L263.4 408.4 L263.7 407.8 L264.1 405.5 L264.8 404.0 L265.1 400.6 L265.7 400.2 L266.3 398.4 L266.8 398.1 L267.6 403.1 L268.5 401.5 L269.3 404.9 L270.1 407.8 L271.0 403.7 L272.5 402.7 L273.9 401.4 L274.3 398.5 L274.6 398.3 L275.0 395.6 L275.4 395.2 L275.7 390.0 L277.8 391.0 L279.4 391.2 L280.9 390.3 L281.6 388.0 L282.3 385.7 L283.4 383.9 L284.5 385.2 L285.5 387.6 L286.3 387.0 L286.5 385.5 L287.2 386.1 L287.4 382.7 L287.6 382.9 L288.3 381.3 L288.6 379.3 L288.8 377.9 L289.4 374.1 L289.8 376.7 L290.3 378.1 L291.0 380.8 L291.3 383.7 L292.1 380.8 L293.1 376.7 L294.1 378.3 L295.2 378.1 L295.6 377.1 L296.1 382.1 L296.8 385.2 L297.5 385.6 L298.0 386.6 L299.0 385.5 L299.8 385.2 L301.0 384.8 L301.0 384.3 L301.9 388.1 L302.1 389.1 L302.5 391.9 L303.8 390.3 L304.4 387.6 L305.0 384.2 L305.9 385.8 L306.2 385.5 L307.2 387.6 L307.8 387.8 L308.2 387.8 L308.9 390.4 L309.3 388.9 L310.4 389.9 L311.2 388.6 L312.2 382.6 L313.2 388.7 L314.2 390.7 L315.2 392.4 L315.6 386.2 L316.5 385.8 L316.9 384.5 L317.0 385.2 L317.8 383.5 L318.1 381.8 L319.0 380.4 L319.5 378.1 L320.5 377.6 L321.2 375.9 L322.1 376.2 L323.0 371.7 L324.6 369.8 L325.9 366.2 L326.5 366.8 L327.5 366.2 L328.1 365.7 L329.0 365.3 L329.5 364.0 L330.3 364.8 L331.2 366.4 L331.8 365.4 L332.5 364.4 L333.5 363.7 L333.9 363.6 L334.7 362.3 L335.5 361.2 L336.2 365.7 L338.0 361.6 L339.7 358.4 L341.7 358.4 L342.7 357.3 L344.0 353.2 L345.6 353.7 L346.7 358.5 L347.7 361.1 L348.3 362.5 L349.2 358.3 L349.8 359.9 L350.4 354.9 L350.8 354.0 L351.2 354.1 L352.9 353.3 L354.6 350.6 L354.8 350.0 L355.1 346.7 L355.2 345.8 L356.0 343.8 L356.2 342.6 L356.5 340.9 L356.8 337.1 L357.1 336.7 L357.0 335.2 L357.5 333.7 L356.9 330.2 L357.1 326.9 L356.9 332.9 L357.5 327.6 L358.1 331.5 L358.5 334.1 L359.0 336.7 L359.4 336.3 L360.1 331.9 L360.9 328.1 L361.0 327.7 L361.3 329.2 L361.7 331.1 L362.2 332.4 L362.3 332.4 L362.9 335.7 L363.4 337.4 L363.9 338.8 L364.8 337.7 L365.6 341.4 L366.8 333.5 L368.3 339.9 L369.5 337.0 L369.2 335.2 L369.8 338.0 L370.2 340.2 L370.4 343.9 L370.8 347.2 L371.2 346.3 L371.4 348.9 L372.0 349.8 L372.4 353.3 L373.2 354.9 L373.3 355.9 L374.0 352.0 L375.0 354.6 L375.5 347.8 L376.0 348.5 L376.2 354.9 L376.7 356.5 L377.2 359.1 L377.8 361.4 L378.1 358.2 L378.6 361.3 L378.6 363.8 L379.1 364.4 L379.1 366.9 L379.1 369.7 L379.5 370.7 L379.5 370.5 L379.7 373.0 L379.9 376.8 L379.9 377.2 L380.1 377.8 L380.3 378.7 L380.8 382.0 L380.9 384.3 L381.2 384.5 L381.3 387.5 L381.4 390.1 L381.8 391.1 L382.0 393.7 L382.5 394.9 L382.8 397.2 L383.3 397.8 L383.9 399.0 L384.1 400.3 L384.3 402.0 L384.9 403.3 L385.7 406.4 L386.6 408.5 L387.3 409.2 L388.0 411.9 L388.9 412.9 L390.3 414.1 L391.4 416.3 L392.7 418.2 L394.5 418.5 L396.6 419.6 L398.6 419.0 L400.2 418.6" stroke="#000" stroke-width="1.75" fill="none" stroke-linejoin="round"/>
<path d="M55.7 500.9 L55.5 503.8 L56.1 504.6 L56.0 506.3 L56.5 506.7 L56.8 504.5 L56.7 510.7 L56.6 510.2 L56.7 512.5 L57.1 512.5 L56.8 517.3 L57.7 520.0 L57.8 514.6 L57.9 514.6 L57.8 513.2 L58.1 513.9 L58.2 508.1 L58.8 508.6 L58.5 509.0 L59.1 507.4 L58.9 506.2 L59.2 505.2 L59.3 504.0 L59.9 502.1 L60.3 499.3 L60.1 499.9 L60.2 496.0 L60.6 498.2 L60.9 495.8 L61.2 495.6 L61.5 493.3 L61.6 489.9 L61.9 490.7 L62.0 487.1 L62.3 488.3 L62.6 485.7 L62.9 486.3 L63.3 482.9 L63.1 481.6 L63.6 482.5 L63.9 480.9 L64.0 480.2 L64.4 479.7 L64.7 484.3 L65.3 482.6 L65.5 483.9 L65.5 483.6 L65.8 484.1 L66.0 483.8 L66.3 484.4 L66.8 484.7 L66.8 481.8 L66.7 482.4 L67.1 482.1 L67.4 481.1 L67.3 480.4 L67.7 480.0 L67.6 475.8 L68.3 474.9 L68.4 474.8 L68.2 474.0 L68.6 473.1 L68.6 473.4 L68.9 471.8 L69.1 468.5 L69.3 467.7 L69.6 465.5 L69.5 465.5 L69.9 465.3 L69.9 469.1 L70.4 465.6 L71.1 463.8 L71.8 467.7 L72.6 467.8 L72.7 468.0 L73.3 469.6 L73.2 469.5 L73.2 472.3 L73.7 472.9 L73.8 476.3 L74.9 471.7 L76.1 473.2 L75.9 475.3 L75.9 475.4 L76.2 477.4 L76.2 477.7 L76.1 477.8 L76.2 477.4 L76.5 481.9 L76.6 481.2 L76.7 482.2 L76.8 486.1 L76.8 487.3 L77.2 486.6 L77.3 487.7 L77.6 487.2 L77.7 489.2 L78.0 490.1 L78.1 492.4 L78.3 490.0 L78.6 492.8 L78.8 493.7 L78.9 494.5 L79.1 498.7 L79.3 499.6 L79.7 501.1 L80.1 502.1 L80.3 503.0 L80.4 504.4 L80.9 504.8 L80.9 506.6 L81.2 506.7 L81.2 509.2 L81.6 508.8 L82.2 507.9 L82.2 511.3 L82.3 512.3 L82.5 513.3 L82.6 515.2 L83.0 515.5 L83.0 517.3 L83.2 518.7 L83.8 521.7 L84.1 522.0 L83.7 523.0 L83.9 523.4 L84.2 524.6 L84.5 524.2 L84.3 525.2 L84.6 528.1 L85.0 528.1 L84.8 528.4 L85.0 530.5 L85.4 533.3 L85.2 533.4 L85.5 537.0 L85.4 536.9 L85.6 537.8 L85.9 539.9 L85.8 540.5 L86.0 540.9 L86.5 542.2 L86.7 544.4 L86.6 546.2 L87.1 546.7 L87.4 547.4 L87.6 548.1 L87.5 549.6 L87.6 546.9 L87.7 552.1 L87.9 554.4 L88.1 553.0 L88.5 552.9 L88.8 556.7 L88.8 555.9 L89.1 557.4 L89.3 559.2 L89.1 560.8 L89.8 562.0 L90.0 563.3 L90.1 564.7 L90.2 566.4 L90.1 566.6 L90.5 569.6 L90.5 570.5 L90.8 571.6 L91.0 573.3 L91.5 574.6 L91.7 573.7 L91.6 576.8 L91.7 576.5 L91.8 577.7 L92.0 579.0 L92.3 579.3 L92.6 582.6 L92.5 583.2 L93.0 583.8 L93.4 583.9 L93.5 584.4 L93.7 585.8 L93.8 588.1 L94.0 588.9 L94.6 590.5 L94.6 591.9 L95.1 594.1 L95.2 596.1 L95.4 596.6 L95.8 597.9 L95.8 598.6 L96.5 597.7 L96.8 599.3 L97.3 602.2 L97.4 602.1 L98.1 604.2 L98.6 605.0 L98.9 605.9 L99.2 607.3 L99.5 607.9 L99.9 609.4 L100.3 611.1 L100.7 612.2 L101.9 613.4 L102.4 612.4 L103.9 614.0 L104.8 614.0 L105.5 615.1 L106.5 615.9 L107.9 616.9 L108.8 617.4 L110.1 617.9 L111.4 618.6 L112.4 618.9 L113.4 617.9 L114.8 618.9 L116.3 619.6 L117.1 619.0 L118.2 618.8 L119.7 619.0 L121.0 619.6 L122.0 619.5 L123.4 619.1 L124.8 619.2 L126.2 619.0 L127.0 618.5 L128.2 618.9 L129.4 618.9 L130.6 619.3 L131.8 619.6 L132.9 619.5 L134.1 619.0 L135.4 619.4" stroke="#000" stroke-width="1.1" fill="none" stroke-linejoin="round"/>
<path d="M56.4 508.4 L56.9 507.8 L57.3 507.7 L57.4 510.4 L58.6 508.1 L58.7 507.2 L58.8 509.1 L58.4 511.5 L60.0 509.9 L59.8 508.5 L58.8 505.5 L59.4 504.6 L60.0 505.3 L59.5 502.6 L60.0 502.6 L60.6 499.3 L60.2 501.2 L61.3 497.3 L61.1 496.5 L61.3 495.9 L61.6 493.2 L61.1 494.0 L60.7 491.2 L62.3 490.8 L62.2 490.3 L62.4 487.7 L62.7 487.2 L62.4 488.1 L62.8 490.0 L63.0 485.4 L63.1 485.8 L63.6 481.3 L64.1 480.7 L64.6 477.5 L64.2 476.3 L65.1 479.3 L65.9 481.2 L65.7 480.2 L65.8 480.7 L65.9 481.1 L66.7 483.9 L65.8 484.8 L66.4 486.5 L67.1 486.3 L66.6 488.6 L67.1 486.5 L67.8 487.2 L67.4 486.2 L67.5 486.2 L67.2 484.9 L67.8 485.7 L67.2 482.8 L67.7 481.2 L67.4 480.0 L68.4 482.9 L68.1 478.4 L68.4 474.4 L68.1 473.0 L68.7 475.1 L68.6 472.7 L68.6 471.3 L69.1 469.7 L69.1 471.3 L68.7 468.7 L70.4 469.3 L71.2 465.4 L71.3 466.5 L71.3 467.7 L71.8 467.8 L73.2 472.9 L73.1 473.2 L73.3 472.4 L73.5 477.1 L73.2 477.3 L74.0 478.6 L73.7 478.5 L74.0 481.0 L74.5 481.7 L74.9 481.8 L74.3 480.4 L74.5 482.9 L74.3 486.5 L75.1 487.1 L74.8 488.9 L75.2 489.8 L75.2 489.8 L75.3 491.0 L75.9 493.3 L75.9 495.1 L74.7 496.9 L75.6 498.1 L75.5 495.9 L76.2 493.1 L77.2 493.4 L76.3 494.2 L76.9 492.7 L77.4 490.1 L77.8 489.4 L77.7 489.6 L77.9 490.1 L78.5 488.2 L77.6 486.3 L79.1 487.8 L78.9 487.7 L79.2 488.6 L78.6 489.3 L79.1 493.9 L79.2 491.7 L80.1 494.2 L79.3 495.0 L79.9 495.2 L80.5 496.2 L80.2 497.0 L79.8 497.7 L80.1 500.1 L80.7 501.7 L80.6 502.3 L80.7 503.4 L81.2 504.9 L82.0 504.0 L81.2 508.4 L81.6 508.6 L81.7 509.3 L82.1 511.5 L82.4 513.2 L82.2 515.0 L81.9 515.8 L82.1 516.6 L82.5 518.2 L82.7 520.2 L83.3 521.0 L83.6 522.4 L83.8 521.5 L83.8 523.5 L83.8 522.9 L83.1 525.5 L84.5 528.5 L85.4 527.4 L85.1 528.0 L85.2 529.6 L86.0 532.5 L86.0 531.4 L86.5 534.5 L85.3 536.0 L86.4 535.4 L86.1 534.8 L86.6 539.3 L87.3 536.1 L87.0 537.0 L87.2 535.6 L87.7 539.2 L87.4 539.4 L87.8 540.7 L88.3 542.4 L88.1 543.0 L87.9 545.7 L88.2 545.9 L89.4 546.1 L88.5 550.3 L89.1 552.4 L89.4 550.3 L89.7 551.8 L89.5 550.5 L90.4 553.7 L90.5 553.5 L89.7 554.8 L90.6 558.4 L90.1 560.6 L90.5 560.3 L91.1 561.0 L91.3 563.7 L90.9 561.6 L91.7 562.6 L91.4 564.7 L91.6 567.1 L92.2 569.0 L92.2 569.6 L92.7 568.3 L92.6 570.7 L93.7 570.9 L93.6 572.7 L93.9 574.1 L93.9 576.5 L94.7 576.3 L94.9 577.3 L94.6 578.6 L95.1 579.9 L95.0 580.5 L95.9 582.5 L95.1 583.3 L95.6 584.0 L95.3 587.0 L95.6 588.3 L96.7 589.2 L96.3 591.7 L96.7 590.2 L97.0 591.6 L96.2 592.0 L97.4 595.2 L97.6 595.0 L98.0 596.4 L98.2 596.6 L98.0 598.2 L98.7 599.4 L99.1 601.2 L99.6 601.3 L99.7 603.1 L100.3 602.8 L101.3 606.7 L100.9 608.0 L101.5 609.1 L102.0 609.6 L102.9 611.0 L102.9 610.6 L103.3 613.7 L104.1 614.1 L105.2 614.3 L106.0 613.8 L106.4 614.6 L108.2 617.1 L108.7 616.2 L110.6 617.8 L111.6 618.5 L112.8 619.4 L114.2 619.0 L114.6 619.5 L116.0 619.8 L117.3 619.0 L118.5 618.5 L119.4 618.4 L121.2 618.8 L121.8 619.4" stroke="#000" stroke-width="1.3" fill="none" stroke-dasharray="0.01 1.9" stroke-linecap="round" stroke-linejoin="round"/>
<path d="M55.2 600.4 L57.9 599.2 L56.3 599.4 L57.0 599.9 L56.1 599.4 L57.8 600.0 L57.5 599.1 L58.6 599.5 L60.4 599.6 L60.3 594.3 L61.9 596.6 L62.8 589.8 L62.0 591.2 L62.5 591.4 L62.4 590.2 L64.4 590.5 L65.5 587.4 L64.3 586.3 L66.1 588.8 L66.1 587.8 L66.1 585.4 L67.8 582.3 L66.6 584.4 L67.8 579.6 L68.9 578.2 L69.6 581.7 L70.1 583.2 L70.6 581.1 L72.2 581.0 L73.5 579.4 L74.9 576.6 L73.4 576.1 L76.3 578.4 L75.1 578.0 L76.1 577.6 L77.5 574.3 L76.8 575.6 L76.8 569.1 L77.3 572.8 L79.1 574.0 L79.8 573.1 L78.9 569.5 L79.5 567.2 L80.8 567.8 L80.2 566.3 L81.2 562.3 L80.8 562.7 L82.8 566.7 L81.3 566.9 L84.7 572.2 L82.8 564.5 L84.6 566.4 L85.1 563.6 L84.8 567.5 L84.9 564.9 L86.3 562.4 L85.3 559.3 L85.9 563.0 L86.9 558.2 L88.1 560.9 L87.5 557.5 L88.4 557.6 L87.0 550.9 L88.4 556.0 L89.7 554.8 L91.6 553.1 L91.9 556.4 L91.9 553.4 L94.7 555.9 L92.5 552.0 L94.7 552.0 L95.2 549.1 L95.5 552.4 L94.2 550.3 L96.1 556.3 L97.2 555.6 L95.7 555.9 L96.8 551.5 L96.9 560.7 L97.3 557.1 L98.3 564.1 L98.9 562.2 L98.0 560.5 L98.6 563.3 L99.0 565.9 L100.1 567.6 L101.4 565.1 L101.5 566.7 L99.9 568.6 L102.1 572.4 L100.0 571.1 L102.7 570.9 L102.4 573.7 L103.0 572.4 L105.7 571.6 L102.7 573.8 L105.4 575.3 L104.9 580.1 L106.6 575.1 L105.3 577.9 L106.1 580.3 L105.1 580.2 L107.6 581.0 L106.0 584.8 L107.8 585.4 L110.1 584.1 L108.7 587.0 L110.2 587.2 L109.7 583.9 L110.6 588.6 L110.4 588.8 L111.6 590.9 L111.5 592.0 L113.1 593.8 L114.5 595.9 L115.7 590.6 L116.1 595.5 L117.4 593.5 L117.3 592.3 L119.5 593.8 L120.1 594.2 L120.5 591.2 L122.5 594.2 L123.4 593.1 L123.0 592.2 L124.2 595.2 L125.5 596.8 L126.8 593.8 L127.0 590.2 L126.7 595.7 L129.8 593.3 L130.9 589.5 L130.8 590.8 L131.1 591.9 L130.8 589.4 L134.1 588.0 L135.3 594.1 L136.8 591.6 L135.5 592.3 L137.5 588.4 L136.6 592.2 L139.6 588.1 L137.8 586.7 L138.2 589.7 L138.3 590.6 L140.1 590.3 L140.4 590.8 L141.9 592.8 L143.4 590.1 L141.4 587.4 L144.7 585.8 L143.6 586.4 L144.4 588.7 L144.2 584.0 L144.3 584.7 L143.7 581.5 L144.8 582.6 L146.2 579.3 L147.1 576.8 L145.8 578.5 L145.8 574.0 L147.9 576.0 L147.2 576.6 L148.5 573.7 L149.9 575.0 L150.7 573.1 L150.0 574.3 L150.9 570.1 L151.5 567.6 L151.7 568.1 L151.6 568.3 L153.1 563.7 L152.1 566.4 L152.8 568.6 L154.5 563.7 L153.2 561.2 L153.6 559.5 L155.6 559.5 L155.6 555.3 L156.1 559.4 L157.7 555.5 L157.3 559.5 L156.8 557.1 L158.7 557.5 L160.2 559.2 L160.1 555.5 L160.9 555.8 L160.5 556.4 L161.3 554.4 L162.3 552.0 L163.1 555.6 L164.4 552.6 L163.6 551.6 L163.1 553.7 L165.4 556.0 L166.2 561.3 L164.7 560.1 L165.5 559.7 L164.8 561.5 L166.8 561.5 L167.9 558.2 L167.9 556.6 L168.3 553.4 L168.7 556.0 L168.9 548.2 L170.0 555.2 L168.4 558.2 L171.5 555.2 L171.8 556.9 L170.6 561.5 L171.7 556.7 L173.3 560.7 L173.5 561.4 L173.8 558.8 L173.6 561.8 L173.5 560.0 L173.6 556.4 L174.1 558.4 L174.3 553.6 L174.7 557.3 L175.7 554.7 L175.8 552.7 L175.8 556.4 L175.5 553.8 L177.6 557.2 L178.0 557.9 L175.7 560.1 L177.1 559.6 L178.0 560.8 L177.7 562.1 L178.9 561.7 L179.5 571.3 L179.5 565.1 L179.4 566.6 L179.8 563.8 L180.4 568.2 L180.7 571.6 L181.2 569.0 L182.1 572.8 L181.8 576.8 L181.5 572.8 L183.9 569.0 L182.2 576.2 L183.3 576.4 L184.2 574.3 L183.8 576.9 L184.3 580.8 L184.2 583.9 L185.1 582.7 L185.4 584.7 L185.6 582.8 L185.2 587.0 L184.4 590.2 L185.2 587.5 L185.8 590.0 L186.4 590.1 L187.1 591.0 L186.8 594.1 L186.3 591.0 L186.9 596.6 L187.2 596.0 L187.9 597.7 L187.8 596.8 L187.1 599.4 L189.8 601.0 L187.8 601.9 L189.0 602.1 L189.5 601.5 L188.9 603.9 L188.8 606.8 L191.1 604.4 L189.6 605.9 L191.3 606.8 L191.1 610.2 L190.0 610.3 L191.9 613.2 L191.1 610.8 L192.6 617.2 L194.2 614.3 L194.8 615.2 L195.1 616.4 L194.3 616.9 L196.4 618.1" stroke="#000" stroke-width="1.9" fill="none" stroke-dasharray="0.01 4.3" stroke-linecap="round" stroke-linejoin="round"/>
<path d="M56.2 598.7 L56.5 598.8 L56.3 602.5 L56.7 602.2 L56.7 605.8 L56.8 607.6 L56.6 610.0 L56.8 612.4 L58.1 612.7 L59.4 611.0 L60.4 610.7 L61.4 613.2 L62.3 613.3 L63.2 614.0 L64.1 614.1 L65.4 611.5 L66.3 609.0 L66.9 611.6 L69.0 611.2 L70.8 609.8 L72.3 606.7 L73.5 607.5 L74.8 605.3 L76.0 600.9 L77.5 604.5 L78.7 602.6 L80.1 602.0 L81.4 602.8 L82.5 601.8 L83.5 602.0 L84.5 597.4 L86.4 600.7 L88.3 600.3 L89.7 599.7 L90.8 597.9 L92.3 596.5 L93.5 596.8 L94.8 598.0 L95.9 598.7 L98.2 599.0 L99.7 596.6 L101.2 599.3 L102.4 601.7 L104.5 596.9 L106.5 597.6 L107.6 604.7 L108.0 605.4 L108.7 604.1 L109.8 606.4 L110.3 609.3 L111.8 608.9 L113.2 611.0 L114.2 607.5 L115.2 605.5 L116.2 604.7 L117.1 603.2 L119.2 604.2 L121.0 606.9 L121.9 602.8 L123.0 602.2 L123.8 598.8 L125.6 597.8 L127.8 601.4 L128.7 600.0 L129.5 595.3 L130.3 598.1 L131.4 593.5 L133.3 593.4 L135.3 594.2 L136.0 592.4 L136.4 592.2 L137.1 592.0 L138.0 590.4 L138.4 587.9 L138.9 588.4 L139.5 586.6 L140.2 584.8 L140.4 582.9 L141.3 579.0 L141.7 578.5 L143.1 580.0 L144.6 577.3 L145.0 579.8 L145.3 579.5 L145.6 575.7 L145.6 575.5 L146.1 571.4 L146.4 570.1 L146.7 568.4 L146.8 565.4 L147.1 565.8 L147.3 565.5 L147.6 563.2 L148.0 561.9 L148.2 559.9 L148.2 558.2 L148.8 554.6 L148.5 555.3 L148.8 554.4 L149.5 551.7 L149.2 550.2 L150.4 546.5 L151.2 547.8 L152.3 544.6 L152.6 543.0 L152.9 539.9 L153.5 538.4 L153.6 537.6 L153.9 534.5 L154.1 531.8 L154.0 532.1 L154.5 529.8 L154.7 528.6 L155.1 526.4 L155.8 524.9 L156.1 524.6 L156.4 521.8 L157.0 523.0 L157.0 520.4 L157.6 515.5 L158.0 513.6 L158.1 513.8 L158.1 512.5 L159.1 510.7 L159.3 508.4 L159.3 506.5 L159.4 505.4 L160.0 503.4 L160.9 499.3 L161.1 496.6 L161.3 497.9 L162.1 494.8 L162.2 492.2 L162.5 493.0 L162.7 489.8 L162.7 488.8 L163.4 485.5 L163.5 486.0 L163.3 484.9 L163.7 480.1 L163.7 478.7 L164.0 477.4 L164.2 476.8 L164.1 472.9 L164.5 472.8 L164.5 471.1 L164.4 468.1 L164.7 466.6 L164.8 464.3 L165.0 464.3 L164.6 466.7 L165.0 467.9 L165.5 471.9 L165.0 473.0 L165.2 472.4 L165.2 478.5 L165.3 478.9 L165.3 481.4 L165.5 481.2 L165.5 482.9 L165.5 485.4 L165.8 487.7 L167.3 485.6 L168.7 489.4 L169.0 486.4 L169.5 489.5 L169.9 491.1 L170.3 493.1 L171.1 496.2 L171.1 497.0 L171.4 500.7 L172.1 501.2 L172.3 502.0 L173.2 502.9 L173.6 506.8 L174.2 507.4 L174.4 512.9 L174.8 506.5 L175.2 502.3 L175.5 500.9 L175.9 498.1 L176.0 502.5 L176.3 505.2 L176.5 507.8 L176.5 509.5 L176.7 511.5 L176.7 512.5 L176.7 513.6 L176.9 514.1 L177.3 517.5 L177.2 517.2 L177.5 518.9 L178.2 522.8 L178.3 523.2 L178.5 525.5 L178.6 527.2 L179.3 528.2 L179.3 529.9 L179.8 531.8 L180.2 530.6 L180.5 535.6 L181.4 537.7 L181.4 538.5 L182.1 541.1 L182.2 544.6 L182.7 542.6 L183.1 545.0 L183.4 549.1 L184.1 549.7 L184.1 552.3 L184.3 554.7 L184.4 555.5 L185.2 556.7 L185.6 560.6 L185.5 561.0 L186.0 564.9 L186.5 563.1 L186.4 565.0 L186.5 567.3 L186.9 567.8 L187.1 569.2 L187.3 572.3 L187.3 575.4 L188.0 574.9 L188.3 577.5 L188.3 577.8 L188.8 578.9 L188.7 583.8 L189.0 584.3 L189.4 588.2 L189.8 589.5 L190.0 589.5 L190.1 593.1 L190.7 592.7 L190.6 597.3 L191.2 596.9 L191.3 599.3 L191.5 599.8 L192.1 602.4 L192.8 602.8 L193.0 605.3 L193.5 607.0 L193.9 608.3 L194.1 609.7 L194.8 609.6 L195.2 612.1 L196.0 615.9 L196.9 617.7 L197.5 616.7 L199.2 618.1 L201.0 618.2 L202.8 618.6 L204.1 619.6" stroke="#000" stroke-width="1.75" fill="none" stroke-linejoin="round"/>
<path d="M254.6 504.5 L255.1 504.1 L254.9 505.1 L255.2 506.9 L255.4 507.5 L255.6 508.3 L255.9 511.5 L255.9 511.2 L256.2 512.5 L256.5 514.6 L256.2 518.4 L256.7 518.1 L256.8 515.5 L256.8 513.6 L257.1 514.2 L257.2 508.5 L257.5 510.7 L257.5 509.8 L257.7 508.2 L258.0 508.2 L258.1 506.4 L258.4 500.7 L258.6 500.6 L258.7 501.2 L258.8 500.2 L259.4 499.9 L259.7 497.6 L259.6 497.4 L260.3 493.8 L260.5 490.2 L260.6 492.4 L260.8 489.7 L261.2 489.9 L261.1 489.6 L261.5 487.8 L261.8 487.0 L262.4 486.4 L262.1 483.0 L262.3 485.4 L262.8 483.6 L263.2 481.4 L263.4 475.5 L263.5 479.6 L263.9 481.0 L264.4 479.8 L264.2 481.9 L264.4 482.9 L264.9 487.2 L265.4 487.9 L265.7 487.5 L265.5 485.0 L265.8 483.2 L265.9 483.2 L266.2 482.4 L266.4 478.2 L266.6 477.7 L266.9 480.0 L267.2 478.4 L267.1 476.1 L267.3 475.9 L267.6 472.8 L267.6 471.6 L267.8 468.5 L268.0 468.9 L268.4 469.7 L268.8 466.2 L268.8 466.3 L268.6 466.0 L268.8 463.9 L269.1 459.7 L269.8 463.0 L270.5 465.5 L270.7 465.1 L271.5 465.5 L272.1 463.5 L272.2 467.1 L272.2 469.2 L272.3 468.3 L272.8 468.6 L273.1 473.3 L273.9 468.4 L275.0 467.7 L274.9 471.5 L275.4 473.0 L275.4 473.8 L275.2 476.9 L275.3 477.5 L275.4 479.2 L275.7 482.1 L275.8 483.8 L275.9 483.8 L275.9 482.9 L275.9 484.9 L276.6 487.3 L276.6 489.4 L276.6 489.0 L276.8 491.5 L277.0 491.4 L276.9 493.5 L277.4 493.6 L277.5 493.0 L277.9 494.6 L278.1 495.2 L278.1 497.2 L278.8 500.7 L278.5 501.3 L279.1 501.8 L279.2 500.8 L279.6 502.9 L280.1 504.7 L280.3 505.6 L280.3 507.1 L280.8 508.4 L280.6 509.3 L281.2 511.0 L281.3 510.4 L281.7 511.3 L281.6 514.2 L281.7 515.1 L281.8 516.1 L282.3 519.9 L282.3 517.6 L282.2 518.8 L282.7 520.8 L283.0 523.5 L283.3 522.3 L283.3 522.1 L283.4 525.5 L283.8 527.0 L283.5 528.1 L284.0 529.3 L284.2 531.0 L284.1 531.3 L284.3 531.6 L284.4 534.5 L284.4 536.0 L284.7 536.7 L284.9 536.7 L285.0 536.9 L285.3 537.6 L285.2 539.5 L285.6 542.9 L285.7 542.0 L285.9 544.0 L286.0 546.1 L286.0 544.1 L286.4 547.8 L286.7 547.5 L286.7 550.3 L287.1 551.4 L287.4 551.2 L287.4 552.5 L287.6 554.0 L287.5 556.3 L287.9 558.6 L288.0 559.1 L288.3 559.6 L288.5 560.6 L288.5 563.1 L288.9 564.5 L289.0 565.2 L289.4 566.5 L289.4 567.7 L289.6 567.1 L289.6 569.9 L290.0 569.6 L289.9 570.9 L290.6 573.0 L290.4 575.2 L290.6 575.0 L291.0 577.4 L291.2 578.7 L291.2 579.3 L291.3 579.9 L291.6 581.5 L292.1 581.8 L292.1 584.7 L292.6 585.4 L292.4 587.1 L292.9 586.5 L293.0 589.0 L293.6 590.4 L293.8 591.6 L293.8 591.4 L294.4 593.5 L294.2 594.3 L294.5 596.6 L295.0 596.0 L295.2 598.7 L295.2 600.0 L296.0 601.5 L296.3 602.3 L296.5 602.9 L296.9 604.4 L297.5 604.5 L298.0 606.7 L298.2 608.8 L298.7 609.6 L299.0 610.1 L299.3 610.1 L299.8 610.9 L300.7 611.5 L301.6 611.6 L302.7 615.0 L303.5 613.5 L304.6 614.4 L305.3 617.0 L306.9 618.1 L307.9 617.1 L308.9 618.0 L310.5 617.5 L311.4 618.2 L312.8 618.2 L313.9 618.0 L315.0 618.6 L316.3 619.0 L317.7 618.6 L318.9 619.4 L319.9 619.4 L321.4 618.7 L322.3 619.4 L323.6 619.0 L324.8 619.1 L326.2 618.9 L327.1 619.5 L328.7 619.0 L329.7 619.6 L330.9 619.6 L331.9 619.4 L333.0 619.6 L334.5 619.5" stroke="#000" stroke-width="1.1" fill="none" stroke-linejoin="round"/>
<path d="M256.9 506.9 L256.2 508.3 L256.6 507.7 L256.7 510.0 L256.9 507.5 L257.5 507.0 L257.7 510.9 L257.6 510.6 L258.6 509.7 L257.9 506.8 L258.3 508.2 L258.6 508.9 L258.8 507.7 L259.2 504.9 L258.9 505.5 L259.8 500.6 L259.4 499.8 L260.3 498.7 L259.9 495.8 L260.9 497.3 L259.8 496.3 L260.5 497.0 L261.0 493.7 L260.9 491.2 L261.3 490.7 L261.3 488.4 L261.6 486.7 L262.1 484.7 L262.2 485.1 L262.1 481.8 L261.8 483.8 L262.5 481.4 L262.5 479.2 L263.6 478.3 L264.2 477.1 L264.4 478.1 L264.4 481.6 L264.9 480.5 L264.8 481.2 L265.1 482.0 L265.8 483.4 L265.5 485.1 L265.8 486.4 L266.2 487.1 L266.0 486.5 L266.3 488.9 L266.7 486.9 L266.6 486.5 L266.5 485.6 L266.6 484.6 L266.9 479.9 L266.8 480.2 L267.0 480.7 L267.4 479.2 L267.5 480.4 L267.8 476.3 L267.4 475.4 L267.1 476.0 L267.8 472.1 L268.1 470.6 L267.7 469.7 L268.0 469.0 L267.1 468.7 L268.5 468.5 L268.5 467.5 L270.2 469.3 L270.5 465.7 L270.9 468.4 L271.4 467.7 L271.1 469.4 L272.4 472.4 L271.9 475.0 L272.5 474.6 L273.2 478.5 L273.0 478.2 L273.3 478.5 L273.0 480.6 L273.1 481.6 L273.8 479.9 L273.8 484.6 L273.9 484.4 L274.0 486.0 L274.0 490.1 L274.1 486.2 L273.9 487.8 L274.0 491.3 L274.8 490.5 L274.0 493.4 L274.7 493.9 L275.0 495.7 L274.3 495.9 L274.8 497.1 L275.1 496.3 L274.7 494.2 L275.5 493.1 L276.5 490.6 L276.3 488.3 L276.4 491.1 L276.5 487.0 L277.6 486.9 L276.8 486.7 L277.6 489.4 L277.9 486.4 L277.8 487.0 L277.9 488.3 L278.5 488.4 L278.4 491.0 L278.8 491.4 L278.4 495.7 L279.0 495.9 L279.3 496.0 L279.4 497.8 L278.9 497.4 L279.9 500.0 L280.0 501.5 L279.3 500.8 L279.2 500.8 L280.5 503.9 L279.8 504.7 L280.8 508.2 L280.8 508.5 L280.5 507.5 L280.4 511.0 L281.2 512.0 L281.0 512.5 L281.1 514.6 L282.1 515.6 L282.3 516.3 L282.0 516.8 L282.6 518.4 L282.0 518.7 L282.0 521.2 L282.6 522.8 L282.9 523.4 L283.5 524.3 L283.3 526.1 L283.7 526.9 L283.7 527.6 L284.0 530.1 L284.3 530.5 L284.2 532.6 L284.3 533.1 L284.2 534.1 L285.2 535.0 L285.3 536.9 L285.9 538.7 L285.6 535.9 L285.9 537.5 L286.2 537.0 L286.3 540.2 L286.4 540.1 L287.0 538.8 L286.6 541.7 L287.1 539.7 L287.0 542.2 L287.5 543.9 L287.3 545.7 L287.6 545.8 L287.5 547.9 L287.7 548.1 L288.0 549.9 L288.5 552.3 L288.7 551.8 L288.8 552.8 L288.9 554.2 L289.6 555.4 L289.2 556.8 L289.7 558.0 L290.1 560.1 L290.3 562.1 L289.8 563.6 L289.9 564.0 L290.8 561.9 L291.0 564.8 L290.8 566.5 L291.3 568.3 L291.1 569.2 L291.6 571.6 L291.1 570.7 L292.1 571.4 L292.6 573.1 L292.5 574.9 L292.7 577.0 L293.3 577.8 L293.4 577.7 L293.4 578.7 L293.5 580.1 L294.2 582.7 L294.2 583.7 L294.6 584.6 L294.7 583.8 L295.4 585.6 L294.5 587.9 L296.0 588.3 L295.6 590.2 L295.8 591.5 L295.5 593.9 L296.7 594.0 L295.9 595.3 L296.6 596.0 L296.7 597.4 L297.4 598.4 L297.0 599.8 L297.3 601.0 L297.4 603.0 L298.4 602.8 L298.9 603.2 L299.4 604.5 L300.1 605.1 L299.9 607.0 L300.9 608.2 L300.8 609.8 L301.1 611.6 L301.6 610.5 L302.7 612.3 L303.0 612.7 L303.9 615.3 L304.4 614.0 L306.6 615.8 L307.6 616.7 L308.0 616.1 L309.3 616.7 L310.6 618.0 L311.8 617.8 L312.5 618.0 L314.0 617.9 L314.9 618.5 L315.6 618.6 L317.3 619.1 L318.3 618.9 L319.9 619.0 L320.8 618.8" stroke="#000" stroke-width="1.3" fill="none" stroke-dasharray="0.01 1.9" stroke-linecap="round" stroke-linejoin="round"/>
<path d="M255.8 619.8 L256.2 618.3 L258.0 618.2 L259.7 619.1 L259.7 618.7 L260.8 617.4 L262.2 618.0 L262.2 617.1 L264.2 618.5 L264.7 616.9 L265.1 617.7 L266.9 617.7 L268.8 617.1 L269.1 618.2 L271.2 617.9 L271.0 617.1 L272.6 617.0 L272.9 618.0 L275.2 617.1 L275.5 615.4 L275.4 613.9 L280.0 614.8 L280.6 617.0 L278.3 615.1 L279.0 614.4 L281.7 612.4 L283.6 614.7 L284.6 613.5 L285.7 615.8 L286.6 613.0 L287.7 609.5 L288.3 614.5 L290.5 611.9 L290.2 609.7 L291.6 610.3 L293.9 610.4 L292.6 610.6 L295.7 610.2 L296.3 610.2 L296.8 609.6 L298.0 607.8 L299.0 610.3 L298.7 608.0 L301.8 610.1 L301.8 608.9 L302.4 608.3 L302.7 604.9 L303.6 602.5 L306.2 604.3 L305.0 606.4 L306.0 603.2 L307.9 601.3 L307.5 601.6 L309.3 601.8 L309.3 598.2 L310.3 600.9 L310.3 599.6 L311.5 598.2 L312.5 595.4 L312.3 595.5 L314.9 597.6 L315.0 595.3 L316.0 596.4 L316.2 594.0 L317.2 592.0 L318.7 590.9 L318.5 591.5 L319.1 590.6 L317.5 586.8 L318.4 587.3 L320.2 585.8 L320.0 586.7 L320.1 583.9 L320.6 583.0 L321.6 582.2 L323.7 577.8 L323.1 585.2 L321.5 580.8 L323.2 580.3 L323.7 574.0 L324.1 575.8 L324.2 577.5 L325.3 573.8 L326.6 575.8 L328.0 572.6 L327.1 570.0 L329.2 565.7 L328.5 568.0 L328.5 568.1 L329.3 567.8 L329.1 569.2 L330.3 562.3 L329.3 563.4 L330.4 561.4 L331.5 564.2 L332.2 562.9 L331.0 558.8 L333.8 556.7 L331.4 557.2 L332.2 556.8 L333.5 556.1 L333.4 552.5 L333.9 550.1 L333.5 552.6 L335.2 555.9 L334.2 552.0 L335.2 552.6 L335.2 546.2 L337.2 542.4 L337.0 548.3 L337.8 544.9 L337.9 544.4 L339.2 543.1 L338.8 537.1 L341.4 541.4 L342.6 544.3 L341.7 536.1 L343.7 543.8 L343.9 538.1 L342.6 538.1 L342.3 539.4 L343.9 533.7 L343.7 531.8 L344.0 532.8 L345.1 532.7 L344.3 535.1 L346.3 535.5 L346.3 531.8 L346.1 522.8 L347.1 527.4 L347.1 528.8 L347.1 528.6 L347.4 518.0 L348.3 520.5 L347.6 519.6 L347.9 522.5 L348.6 520.0 L349.2 518.4 L348.1 515.4 L350.3 519.2 L349.7 520.4 L348.6 517.4 L349.7 514.9 L348.5 508.2 L350.5 514.6 L351.2 509.9 L349.7 503.6 L349.2 504.6 L350.0 504.7 L351.2 505.2 L350.8 508.0 L351.1 504.8 L350.4 506.2 L351.7 497.9 L352.3 499.4 L351.2 500.3 L351.5 503.0 L350.9 499.3 L352.5 493.6 L350.9 495.2 L351.3 493.5 L352.2 492.5 L352.7 491.7 L352.8 491.2 L353.3 493.6 L353.6 489.6 L353.0 489.0 L352.0 485.7 L354.3 488.0 L354.3 482.3 L353.3 482.8 L352.7 478.0 L352.5 481.0 L353.1 482.8 L354.9 479.2 L354.3 477.1 L356.1 479.4 L353.7 479.6 L354.1 474.6 L354.2 472.6 L355.1 472.4 L355.1 474.8 L355.9 475.6 L356.0 474.2 L355.7 467.2 L356.2 469.3 L355.3 469.6 L355.9 469.7 L356.9 469.7 L357.0 473.0 L356.7 472.7 L355.9 473.2 L357.0 477.4 L356.8 478.2 L355.7 479.0 L356.5 478.9 L357.8 483.8 L355.8 480.2 L356.6 484.2 L357.4 487.6 L356.6 487.8 L356.3 482.8 L358.2 486.3 L357.3 483.4 L357.6 492.0 L359.0 493.8 L359.2 491.4 L358.3 488.9 L359.8 493.3 L360.2 495.3 L359.4 496.0 L360.8 495.9 L360.5 501.8 L360.2 498.8 L360.9 499.4 L361.8 495.0 L361.7 500.7 L361.2 503.5 L362.9 510.5 L362.6 509.0 L363.0 504.5 L363.7 507.3 L363.4 503.8 L362.6 507.2 L363.9 510.0 L364.8 509.1 L364.1 515.4 L363.4 517.3 L365.4 513.0 L365.1 513.9 L365.8 517.4 L366.2 519.5 L366.3 518.5 L367.3 522.6 L366.4 520.2 L367.7 519.8 L366.8 523.6 L368.1 524.8 L367.3 524.5 L367.3 522.0 L367.3 524.6 L367.1 526.0 L368.4 524.7 L369.4 532.0 L369.3 535.8 L368.9 534.0 L369.1 527.3 L368.8 534.1 L368.7 536.5 L368.2 539.2 L369.0 540.1 L370.3 541.9 L370.8 542.8 L369.5 542.1 L369.8 548.3 L369.8 539.2 L371.3 544.6 L369.9 545.5 L370.4 545.7 L372.2 548.4 L371.6 545.3 L372.5 546.2 L372.0 552.4 L372.4 548.9 L371.3 551.4 L370.3 555.4 L371.9 549.5 L372.1 553.9 L373.6 555.1 L371.8 558.3 L373.8 558.4 L374.6 561.7 L374.0 560.1 L374.8 559.8 L374.9 564.3 L376.2 561.6 L376.5 563.6 L376.4 567.0 L376.2 567.2 L377.9 569.7 L376.0 570.6 L377.7 572.0 L377.4 569.5 L378.1 573.7 L379.3 575.6 L378.5 575.6 L380.7 576.7 L381.0 575.2 L381.2 575.5 L381.7 581.9 L381.6 580.5 L382.3 581.0 L382.2 583.8 L382.5 583.7 L383.5 588.1 L382.3 584.7 L383.4 587.0 L383.8 588.9 L384.0 591.0 L384.2 589.7 L385.2 591.9 L384.4 591.0 L385.3 592.2 L385.9 591.5 L385.9 595.7 L386.8 596.5 L386.3 598.3 L387.3 596.2 L386.6 599.0 L387.5 604.0 L388.5 602.8 L387.0 603.3 L390.1 606.4 L387.2 605.9 L388.5 606.6 L389.2 605.2 L389.7 607.8 L391.0 609.2 L392.2 609.8 L392.1 611.4 L391.6 610.8 L392.1 614.4 L393.1 612.0 L392.9 613.7 L396.0 615.9 L394.6 616.2 L395.8 616.1 L398.3 616.1" stroke="#000" stroke-width="1.9" fill="none" stroke-dasharray="0.01 4.3" stroke-linecap="round" stroke-linejoin="round"/>
<path d="M255.8 617.8 L257.5 619.6 L259.2 619.2 L260.5 618.9 L262.6 617.7 L264.2 617.2 L266.0 617.0 L268.2 619.1 L269.9 617.8 L271.9 617.6 L273.7 617.6 L275.5 617.9 L277.2 615.1 L278.6 614.1 L280.4 613.9 L281.9 615.0 L283.5 613.2 L285.4 610.8 L287.3 610.7 L289.4 612.5 L290.7 609.9 L292.2 607.9 L293.4 609.8 L294.9 609.5 L296.8 609.4 L298.9 607.5 L300.7 610.9 L302.0 604.1 L303.4 605.2 L304.7 605.7 L305.9 603.9 L307.4 601.2 L308.2 598.7 L309.9 596.7 L311.0 596.6 L312.3 595.9 L313.4 597.5 L314.2 593.7 L315.5 592.4 L316.3 593.7 L317.2 588.7 L317.6 588.8 L318.4 587.1 L319.1 585.3 L319.9 582.7 L320.4 580.1 L321.2 580.9 L321.7 577.4 L322.1 579.4 L323.0 577.4 L323.3 574.4 L323.8 571.6 L324.4 570.7 L324.6 570.1 L325.0 566.8 L325.5 565.5 L325.9 563.2 L326.5 561.5 L326.7 558.8 L327.4 559.6 L328.1 557.7 L329.0 555.2 L330.0 556.5 L330.6 553.0 L331.0 549.9 L331.5 549.9 L332.3 549.1 L332.7 545.4 L332.9 543.7 L333.2 542.0 L335.0 541.5 L335.9 543.1 L337.4 536.5 L338.4 535.7 L339.4 536.3 L338.7 534.7 L338.2 531.6 L337.8 530.9 L339.4 530.1 L340.9 528.1 L341.1 528.6 L340.9 526.3 L341.1 523.7 L341.9 522.5 L341.8 519.2 L342.3 515.7 L342.3 513.7 L342.7 511.9 L342.8 512.6 L343.1 508.9 L343.5 505.7 L343.6 498.6 L344.1 507.4 L344.5 509.6 L345.0 511.2 L345.5 517.0 L345.6 509.4 L346.2 512.8 L346.3 511.8 L346.5 509.6 L347.2 510.6 L347.3 509.8 L347.8 508.8 L348.2 505.7 L348.6 503.1 L348.9 499.7 L349.7 499.2 L349.8 496.8 L350.4 494.3 L351.6 491.4 L353.0 493.2 L354.0 493.4 L354.2 495.0 L354.8 499.1 L355.4 502.4 L355.6 503.5 L356.0 505.9 L355.9 504.0 L355.9 510.6 L356.6 507.0 L356.6 504.0 L356.6 502.4 L356.8 498.8 L357.3 496.3 L357.4 494.8 L356.9 493.9 L357.3 493.1 L357.6 492.1 L357.5 491.2 L358.0 490.6 L358.2 489.8 L358.6 492.4 L359.0 490.0 L359.3 493.9 L360.0 495.8 L360.1 499.5 L360.4 500.2 L360.6 503.6 L361.0 505.8 L361.1 506.1 L361.4 507.3 L361.6 508.1 L361.6 510.5 L362.0 511.4 L362.2 513.9 L362.6 515.8 L363.4 517.8 L363.9 517.7 L364.4 518.3 L365.1 520.7 L365.5 522.1 L365.9 523.6 L366.6 521.4 L366.7 526.7 L367.6 526.9 L368.2 529.4 L368.7 530.1 L369.3 534.6 L369.7 536.1 L370.3 536.3 L370.1 538.9 L370.4 540.2 L370.5 543.1 L370.8 545.0 L371.0 545.6 L371.1 546.9 L371.2 548.0 L371.5 549.5 L372.0 552.2 L372.5 555.5 L373.1 557.7 L373.1 561.0 L374.2 559.7 L374.5 553.4 L375.6 550.3 L375.7 554.2 L375.8 558.4 L375.9 560.3 L376.3 560.9 L376.6 561.2 L376.8 563.8 L377.0 567.5 L377.2 569.6 L378.1 564.8 L379.1 565.1 L380.5 560.5 L380.6 565.6 L381.1 566.2 L381.6 567.5 L382.2 571.0 L382.8 573.2 L383.0 575.8 L383.6 577.5 L383.7 577.4 L383.9 579.6 L384.6 579.9 L384.8 583.2 L385.1 583.4 L385.6 587.9 L386.1 588.2 L386.4 588.6 L386.5 590.7 L386.9 592.9 L387.3 594.1 L387.6 596.4 L388.3 598.2 L388.5 600.0 L389.0 601.1 L389.4 603.0 L389.8 605.0 L390.5 606.3 L391.2 607.3 L391.5 609.2 L391.9 612.1 L392.8 612.1 L393.9 615.1 L395.4 616.5 L396.5 618.2 L398.3 616.8 L400.4 619.1 L402.5 618.9 L404.3 619.3" stroke="#000" stroke-width="1.75" fill="none" stroke-linejoin="round"/>
<path d="M136.5 97.1 H225.0 M136.5 92.6 v9 M225.0 92.6 v9 M359.0 96.7 H424.4 M359.0 92.2 v9 M424.4 92.2 v9 M135.4 295.6 H225.0 M135.4 291.1 v9 M225.0 291.1 v9 M357.7 294.0 H424.4 M357.7 289.5 v9 M424.4 289.5 v9 M135.4 493.0 H225.8 M135.4 488.5 v9 M225.8 488.5 v9 M359.0 492.2 H425.0 M359.0 487.7 v9 M425.0 487.7 v9" stroke="#000" stroke-width="1.7" fill="none"/>
<g font-family="'Liberation Serif', serif" fill="#000">
<text x="86.5" y="17.8" font-size="25" font-weight="bold" textLength="101.5" lengthAdjust="spacingAndGlyphs">L-selectin</text>
<text x="304" y="17.8" font-size="25" font-weight="bold" textLength="58.6" lengthAdjust="spacingAndGlyphs">CD44</text>
<text x="448.3" y="145.5" font-size="25" font-weight="bold" textLength="48" lengthAdjust="spacingAndGlyphs">PLN</text>
<text x="448.6" y="343.8" font-size="25" font-weight="bold" textLength="29.2" lengthAdjust="spacingAndGlyphs">PP</text>
<text x="448.6" y="541.6" font-size="25" font-weight="bold" textLength="71.5" lengthAdjust="spacingAndGlyphs">Spleen</text>
<text transform="translate(19.6 433.5) rotate(-90)" font-size="24.9" textLength="207.1" lengthAdjust="spacingAndGlyphs">Relative cell number</text>
<text x="134.5" y="679.9" font-size="24.9" textLength="222.3" lengthAdjust="spacingAndGlyphs">Fluorescence intensity</text>
<g stroke="#000" stroke-width="0.3">
<text x="167.9" y="63.5" font-size="13" textLength="21.4" lengthAdjust="spacingAndGlyphs">+/+</text>
<text x="202.4" y="63.5" font-size="13" textLength="23.5" lengthAdjust="spacingAndGlyphs">67.3</text>
<text x="163.8" y="76.2" font-size="13" font-style="italic" textLength="32.2" lengthAdjust="spacingAndGlyphs">plt/plt</text>
<text x="202.0" y="76.2" font-size="13" textLength="23.7" lengthAdjust="spacingAndGlyphs">44.1</text>
<text x="367.0" y="65.1" font-size="13" textLength="21.0" lengthAdjust="spacingAndGlyphs">+/+</text>
<text x="401.3" y="65.1" font-size="13" textLength="25.1" lengthAdjust="spacingAndGlyphs">32.7</text>
<text x="362.8" y="77.6" font-size="13" font-style="italic" textLength="32.8" lengthAdjust="spacingAndGlyphs">plt/plt</text>
<text x="401.6" y="77.6" font-size="13" textLength="24.8" lengthAdjust="spacingAndGlyphs">66.6</text>
<text x="168.8" y="261.9" font-size="13" textLength="20.5" lengthAdjust="spacingAndGlyphs">+/+</text>
<text x="204.0" y="261.9" font-size="13" textLength="23.3" lengthAdjust="spacingAndGlyphs">16.8</text>
<text x="164.5" y="274.5" font-size="13" font-style="italic" textLength="32.1" lengthAdjust="spacingAndGlyphs">plt/plt</text>
<text x="210.1" y="274.5" font-size="13" textLength="16.5" lengthAdjust="spacingAndGlyphs">9.3</text>
<text x="367.7" y="261.5" font-size="13" textLength="20.7" lengthAdjust="spacingAndGlyphs">+/+</text>
<text x="402.4" y="261.5" font-size="13" textLength="24.4" lengthAdjust="spacingAndGlyphs">29.5</text>
<text x="363.6" y="274.2" font-size="13" font-style="italic" textLength="32.7" lengthAdjust="spacingAndGlyphs">plt/plt</text>
<text x="402.4" y="274.2" font-size="13" textLength="24.0" lengthAdjust="spacingAndGlyphs">29.3</text>
<text x="171.0" y="461.5" font-size="13" textLength="20.6" lengthAdjust="spacingAndGlyphs">+/+</text>
<text x="204.7" y="461.5" font-size="13" textLength="24.3" lengthAdjust="spacingAndGlyphs">44.8</text>
<text x="166.5" y="474.0" font-size="13" font-style="italic" textLength="31.8" lengthAdjust="spacingAndGlyphs">plt/plt</text>
<text x="205.1" y="474.0" font-size="13" textLength="23.9" lengthAdjust="spacingAndGlyphs">77.2</text>
<text x="368.3" y="461.0" font-size="13" textLength="20.8" lengthAdjust="spacingAndGlyphs">+/+</text>
<text x="402.6" y="461.0" font-size="13" textLength="24.7" lengthAdjust="spacingAndGlyphs">35.8</text>
<text x="364.1" y="473.6" font-size="13" font-style="italic" textLength="32.5" lengthAdjust="spacingAndGlyphs">plt/plt</text>
<text x="402.6" y="473.6" font-size="13" textLength="24.4" lengthAdjust="spacingAndGlyphs">33.9</text>
</g>
</g>
</svg>
</body></html>
